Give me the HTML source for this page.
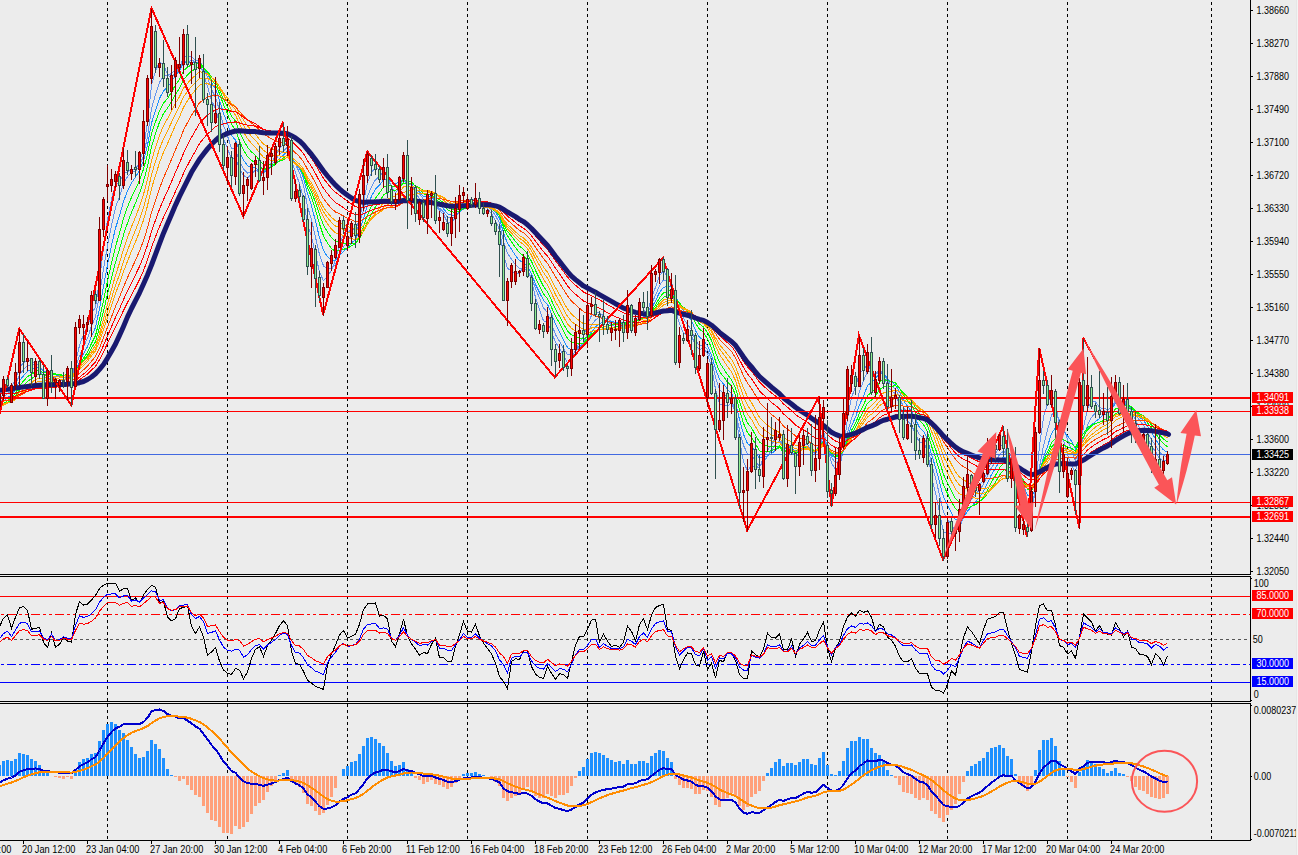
<!DOCTYPE html>
<html><head><meta charset="utf-8"><title>chart</title><style>html,body{margin:0;padding:0;background:#ECECEC;overflow:hidden}</style></head><body>
<svg width="1298" height="855" viewBox="0 0 1298 855" style="display:block;font-family:'Liberation Sans',sans-serif">
<rect width="1298" height="855" fill="#ECECEC"/>
<defs><clipPath id="cm"><rect x="0" y="0" width="1250" height="574"/></clipPath><clipPath id="cr"><rect x="0" y="577" width="1250" height="124"/></clipPath><clipPath id="cd"><rect x="0" y="704" width="1250" height="136"/></clipPath></defs>
<path d="M107.5 2V574M107.5 578V701M107.5 704V840M227.5 2V574M227.5 578V701M227.5 704V840M347.5 2V574M347.5 578V701M347.5 704V840M467.5 2V574M467.5 578V701M467.5 704V840M587.5 2V574M587.5 578V701M587.5 704V840M707.5 2V574M707.5 578V701M707.5 704V840M827.5 2V574M827.5 578V701M827.5 704V840M947.5 2V574M947.5 578V701M947.5 704V840M1067.5 2V574M1067.5 578V701M1067.5 704V840M1211.5 2V574M1211.5 578V701M1211.5 704V840" stroke="#000" stroke-width="1" stroke-dasharray="3 3" fill="none" shape-rendering="crispEdges"/>
<g clip-path="url(#cm)">
<polyline points="-0.5,400.9 3.5,393.0 7.5,388.8 11.5,386.2 15.5,380.4 19.5,366.8 23.5,363.1 27.5,359.5 31.5,362.1 35.5,362.1 39.5,367.1 43.5,378.0 47.5,377.3 51.5,379.7 55.5,380.5 59.5,380.3 63.5,380.1 67.5,376.5 71.5,379.3 75.5,362.0 79.5,345.5 83.5,334.5 87.5,326.7 91.5,313.1 95.5,307.2 99.5,279.8 103.5,248.2 107.5,219.8 111.5,199.1 115.5,184.5 119.5,181.8 123.5,173.8 127.5,171.6 131.5,169.8 135.5,168.8 139.5,162.7 143.5,148.5 147.5,122.3 151.5,85.1 155.5,70.9 159.5,62.2 163.5,64.5 167.5,74.6 171.5,77.8 175.5,72.8 179.5,69.5 183.5,56.3 187.5,55.9 191.5,56.7 195.5,60.8 199.5,60.6 203.5,74.7 207.5,86.1 211.5,100.7 215.5,108.3 219.5,123.2 223.5,139.2 227.5,148.2 231.5,159.7 235.5,157.1 239.5,169.1 243.5,175.2 247.5,178.0 251.5,174.3 255.5,170.1 259.5,171.4 263.5,172.5 267.5,167.1 271.5,162.3 275.5,156.0 279.5,147.9 283.5,145.0 287.5,142.1 291.5,160.0 295.5,172.5 299.5,183.7 303.5,199.0 307.5,224.9 311.5,236.4 315.5,254.3 319.5,272.1 323.5,280.7 327.5,276.4 331.5,270.0 335.5,260.0 339.5,243.7 343.5,235.2 347.5,233.1 351.5,228.6 355.5,230.0 359.5,218.4 363.5,202.3 367.5,182.7 371.5,172.5 375.5,167.5 379.5,170.0 383.5,169.7 387.5,177.9 391.5,186.7 395.5,192.4 399.5,188.9 403.5,178.1 407.5,183.2 411.5,183.5 415.5,193.2 419.5,198.5 423.5,207.0 427.5,203.6 431.5,200.5 435.5,206.1 439.5,210.1 443.5,214.5 447.5,222.5 451.5,222.6 455.5,217.9 459.5,209.8 463.5,202.2 467.5,198.9 471.5,199.4 475.5,198.9 479.5,202.3 483.5,206.6 487.5,208.4 491.5,213.7 495.5,220.6 499.5,229.5 503.5,255.0 507.5,268.3 511.5,271.2 515.5,273.5 519.5,273.1 523.5,266.3 527.5,268.7 531.5,280.2 535.5,297.6 539.5,309.8 543.5,320.9 547.5,322.3 551.5,331.8 555.5,342.5 559.5,348.1 563.5,356.3 567.5,362.4 571.5,358.9 575.5,349.7 579.5,341.8 583.5,336.8 587.5,324.2 591.5,315.4 595.5,313.2 599.5,312.8 603.5,315.8 607.5,321.3 611.5,324.8 615.5,327.0 619.5,325.5 623.5,327.5 627.5,319.9 631.5,322.3 635.5,320.7 639.5,314.1 643.5,310.6 647.5,312.0 651.5,298.0 655.5,287.1 659.5,275.6 663.5,270.7 667.5,277.1 671.5,282.3 675.5,310.5 679.5,323.6 683.5,333.3 687.5,334.9 691.5,336.1 695.5,345.2 699.5,349.7 703.5,347.6 707.5,353.6 711.5,367.2 715.5,389.1 719.5,404.0 723.5,405.1 727.5,405.9 731.5,403.0 735.5,412.6 739.5,440.0 743.5,461.9 747.5,470.9 751.5,465.8 755.5,466.6 759.5,467.4 763.5,457.4 767.5,450.0 771.5,445.2 775.5,437.9 779.5,434.6 783.5,448.8 787.5,448.8 791.5,451.2 795.5,457.2 799.5,452.8 803.5,445.8 807.5,444.1 811.5,451.6 815.5,454.1 819.5,443.3 823.5,430.7 827.5,448.0 831.5,462.8 835.5,470.1 839.5,466.8 843.5,450.3 847.5,418.7 851.5,397.3 855.5,387.3 859.5,373.1 863.5,369.8 867.5,363.5 871.5,371.6 875.5,374.5 879.5,371.4 883.5,375.3 887.5,386.1 891.5,390.5 895.5,393.9 899.5,404.3 903.5,416.5 907.5,420.9 911.5,424.8 915.5,434.8 919.5,442.2 923.5,442.1 927.5,450.7 931.5,476.6 935.5,492.8 939.5,512.4 943.5,532.4 947.5,533.3 951.5,533.5 955.5,532.9 959.5,524.2 963.5,509.7 967.5,495.6 971.5,488.2 975.5,486.1 979.5,484.6 983.5,480.8 987.5,471.4 991.5,460.9 995.5,454.3 999.5,445.6 1003.5,444.8 1007.5,455.4 1011.5,458.0 1015.5,482.5 1019.5,497.5 1023.5,510.4 1027.5,520.7 1031.5,514.0 1035.5,485.4 1039.5,446.0 1043.5,417.1 1047.5,403.7 1051.5,394.3 1055.5,402.2 1059.5,427.2 1063.5,440.4 1067.5,455.1 1071.5,464.5 1075.5,473.0 1079.5,443.4 1083.5,427.6 1087.5,408.5 1091.5,402.1 1095.5,401.7 1099.5,407.2 1103.5,409.4 1107.5,414.4 1111.5,409.0 1115.5,399.4 1119.5,402.2 1123.5,400.5 1127.5,403.4 1131.5,410.9 1135.5,420.4 1139.5,427.8 1143.5,432.2 1147.5,438.8 1151.5,446.1 1155.5,451.7 1159.5,458.2 1163.5,461.0 1167.5,459.5" fill="none" stroke="#6495ED" stroke-width="1" shape-rendering="crispEdges"/>
<polyline points="-0.5,404.1 3.5,397.8 7.5,393.8 11.5,390.7 15.5,385.3 19.5,374.5 23.5,369.7 27.5,365.4 31.5,365.3 35.5,363.5 39.5,365.0 43.5,372.2 47.5,372.9 51.5,376.2 55.5,377.9 59.5,379.2 63.5,380.1 67.5,377.9 71.5,379.5 75.5,367.6 79.5,355.9 83.5,346.5 87.5,338.4 91.5,325.9 95.5,316.9 99.5,294.5 103.5,269.2 107.5,245.8 111.5,225.3 115.5,207.6 119.5,196.5 123.5,183.6 127.5,176.6 131.5,172.9 135.5,171.0 139.5,166.2 143.5,155.4 147.5,136.5 151.5,108.8 155.5,94.6 159.5,82.2 163.5,76.0 167.5,75.6 171.5,73.4 175.5,70.0 179.5,69.3 183.5,62.2 187.5,61.6 191.5,60.7 195.5,61.3 199.5,59.7 203.5,68.4 207.5,77.5 211.5,89.3 215.5,97.5 219.5,110.2 223.5,125.4 227.5,136.0 231.5,148.1 235.5,149.8 239.5,161.4 243.5,168.8 247.5,173.2 251.5,172.4 255.5,170.1 259.5,172.4 263.5,173.5 267.5,169.7 271.5,165.0 275.5,159.9 279.5,154.1 283.5,150.9 287.5,147.0 291.5,156.7 295.5,164.3 299.5,172.7 303.5,185.2 307.5,206.3 311.5,220.0 315.5,237.3 319.5,254.6 323.5,265.9 327.5,269.2 331.5,268.8 335.5,264.6 339.5,254.2 343.5,246.9 347.5,241.8 351.5,235.0 355.5,232.8 359.5,223.0 363.5,210.8 367.5,196.2 371.5,186.7 375.5,179.7 379.5,176.4 383.5,172.1 387.5,174.7 391.5,180.6 395.5,185.9 399.5,185.6 403.5,179.7 407.5,184.2 411.5,185.0 415.5,191.2 419.5,193.8 423.5,199.4 427.5,199.4 431.5,199.4 435.5,205.1 439.5,208.2 443.5,211.8 447.5,217.0 451.5,218.1 455.5,216.7 459.5,212.7 463.5,208.0 467.5,205.0 471.5,203.5 475.5,201.2 479.5,201.6 483.5,203.9 487.5,205.6 491.5,210.1 495.5,215.7 499.5,223.0 503.5,241.7 507.5,253.5 511.5,259.2 515.5,264.8 519.5,268.8 523.5,268.0 527.5,270.5 531.5,277.6 535.5,288.7 539.5,298.0 543.5,307.9 547.5,312.6 551.5,323.3 555.5,334.6 559.5,341.2 563.5,348.6 567.5,354.6 571.5,355.2 575.5,351.4 579.5,347.0 583.5,343.3 587.5,333.4 591.5,324.8 595.5,320.0 599.5,317.0 603.5,317.2 607.5,319.2 611.5,321.1 615.5,323.2 619.5,323.7 623.5,326.2 627.5,321.9 631.5,323.5 635.5,322.1 639.5,317.2 643.5,314.1 647.5,313.8 651.5,304.1 655.5,295.3 659.5,285.6 663.5,279.7 667.5,281.3 671.5,281.9 675.5,299.0 679.5,308.5 683.5,318.6 687.5,324.5 691.5,329.9 695.5,340.5 699.5,345.6 703.5,345.5 707.5,349.5 711.5,360.0 715.5,377.0 719.5,389.6 723.5,393.4 727.5,397.7 731.5,400.3 735.5,410.4 739.5,429.9 743.5,445.3 747.5,453.8 751.5,454.9 755.5,461.2 759.5,466.7 763.5,462.3 767.5,456.2 771.5,450.4 775.5,444.2 779.5,440.6 783.5,447.9 787.5,446.4 791.5,447.5 795.5,452.3 799.5,451.0 803.5,448.2 807.5,447.1 811.5,451.7 815.5,452.7 819.5,445.2 823.5,436.1 827.5,446.9 831.5,457.5 835.5,462.7 839.5,460.5 843.5,450.7 847.5,432.6 851.5,418.5 855.5,407.8 859.5,390.9 863.5,381.1 867.5,370.8 871.5,372.7 875.5,373.3 879.5,370.7 883.5,373.2 887.5,380.7 891.5,385.7 895.5,389.1 899.5,397.1 903.5,407.2 907.5,413.2 911.5,418.4 915.5,427.2 919.5,434.8 923.5,437.6 927.5,445.1 931.5,464.0 935.5,477.8 939.5,494.7 943.5,512.4 947.5,519.0 951.5,525.7 955.5,530.0 959.5,527.1 963.5,517.8 967.5,506.7 971.5,499.1 975.5,494.4 979.5,490.1 983.5,484.3 987.5,475.7 991.5,467.6 995.5,462.2 999.5,454.6 1003.5,451.1 1007.5,455.1 1011.5,455.3 1015.5,471.4 1019.5,483.1 1023.5,495.2 1027.5,506.8 1031.5,507.1 1035.5,492.7 1039.5,467.3 1043.5,445.7 1047.5,430.3 1051.5,415.2 1055.5,410.8 1059.5,420.1 1063.5,427.2 1067.5,439.4 1071.5,450.0 1075.5,461.1 1079.5,446.8 1083.5,438.3 1087.5,425.0 1091.5,417.3 1095.5,412.6 1099.5,409.8 1103.5,407.9 1107.5,409.7 1111.5,408.0 1115.5,402.5 1119.5,404.7 1123.5,403.1 1127.5,404.3 1131.5,408.0 1135.5,414.0 1139.5,420.4 1143.5,425.3 1147.5,432.2 1151.5,439.3 1155.5,445.7 1159.5,452.1 1163.5,455.7 1167.5,456.7" fill="none" stroke="#6495ED" stroke-width="1" shape-rendering="crispEdges"/>
<polyline points="-0.5,406.6 3.5,401.5 7.5,397.8 11.5,394.7 15.5,389.7 19.5,380.7 23.5,375.9 27.5,371.3 31.5,369.8 35.5,367.0 39.5,367.0 43.5,371.5 47.5,371.3 51.5,373.2 55.5,374.7 59.5,376.4 63.5,378.1 67.5,377.1 71.5,379.0 75.5,370.7 79.5,361.6 83.5,353.9 87.5,346.6 91.5,336.1 95.5,327.5 99.5,308.4 103.5,286.6 107.5,264.9 111.5,245.5 115.5,228.1 119.5,215.8 123.5,201.4 127.5,191.1 131.5,182.9 135.5,177.0 139.5,170.2 143.5,160.6 147.5,145.3 151.5,123.2 155.5,110.4 159.5,98.5 163.5,90.9 167.5,87.3 171.5,81.8 175.5,75.3 179.5,71.0 183.5,63.4 187.5,62.6 191.5,62.3 195.5,63.4 199.5,62.0 203.5,67.7 207.5,73.7 211.5,82.3 215.5,88.9 219.5,100.1 223.5,113.4 227.5,123.9 231.5,135.5 235.5,140.1 239.5,151.7 243.5,160.2 247.5,165.7 251.5,167.6 255.5,167.9 259.5,170.9 263.5,172.5 267.5,170.0 271.5,167.2 275.5,163.3 279.5,158.5 283.5,154.9 287.5,151.1 291.5,157.8 295.5,163.0 299.5,168.6 303.5,177.6 307.5,193.9 311.5,205.8 315.5,221.2 319.5,237.6 323.5,250.4 327.5,256.8 331.5,260.2 335.5,260.2 339.5,255.3 343.5,251.4 347.5,248.2 351.5,242.7 355.5,239.7 359.5,230.1 363.5,218.6 367.5,205.5 371.5,196.3 375.5,189.2 379.5,185.0 383.5,180.0 387.5,179.7 391.5,181.5 395.5,183.6 399.5,182.3 403.5,178.2 407.5,182.3 411.5,183.8 415.5,189.1 419.5,191.9 423.5,196.6 427.5,197.0 431.5,196.8 435.5,201.2 439.5,204.7 443.5,208.7 447.5,213.9 451.5,215.3 455.5,214.9 459.5,212.0 463.5,208.9 467.5,207.2 471.5,206.4 475.5,204.6 479.5,204.3 483.5,205.0 487.5,205.3 491.5,207.9 495.5,212.1 499.5,218.1 503.5,233.1 507.5,243.3 511.5,249.3 515.5,255.5 519.5,260.6 523.5,262.3 527.5,266.4 531.5,274.0 535.5,284.4 539.5,292.4 543.5,300.3 547.5,304.4 551.5,313.8 555.5,324.1 559.5,331.7 563.5,340.2 567.5,347.5 571.5,350.0 575.5,348.5 579.5,346.3 583.5,344.7 587.5,338.0 591.5,331.6 595.5,327.1 599.5,323.5 603.5,321.9 607.5,321.5 611.5,321.5 615.5,322.3 619.5,322.0 623.5,323.9 627.5,321.1 631.5,323.0 635.5,322.5 639.5,319.1 643.5,316.7 647.5,316.0 651.5,308.2 655.5,300.9 659.5,292.5 663.5,287.1 667.5,286.8 671.5,285.9 675.5,297.2 679.5,303.6 683.5,310.5 687.5,315.1 691.5,320.3 695.5,330.6 699.5,337.4 703.5,340.2 707.5,345.9 711.5,355.1 715.5,368.9 719.5,379.2 723.5,383.9 727.5,389.3 731.5,393.2 735.5,402.6 739.5,419.5 743.5,434.2 747.5,443.7 751.5,446.4 755.5,452.3 759.5,458.1 763.5,457.3 767.5,455.8 771.5,453.8 775.5,449.9 779.5,446.1 783.5,449.8 787.5,447.9 791.5,448.1 795.5,450.9 799.5,449.3 803.5,447.0 807.5,446.6 811.5,450.7 815.5,452.4 819.5,446.9 823.5,439.9 827.5,447.3 831.5,454.9 835.5,458.7 839.5,457.5 843.5,450.9 847.5,437.4 851.5,425.9 855.5,417.3 859.5,404.8 863.5,396.3 867.5,385.6 871.5,382.4 875.5,378.5 879.5,373.3 883.5,373.4 887.5,378.4 891.5,382.1 895.5,385.0 899.5,391.6 903.5,400.6 907.5,406.3 911.5,411.5 915.5,419.6 919.5,427.4 923.5,431.4 927.5,438.6 931.5,454.6 935.5,467.2 939.5,481.8 943.5,497.3 947.5,505.2 951.5,513.3 955.5,519.6 959.5,520.8 963.5,517.3 967.5,511.2 971.5,506.3 975.5,502.1 979.5,497.4 983.5,491.2 987.5,482.7 991.5,474.6 995.5,468.3 999.5,460.7 1003.5,456.9 1007.5,459.0 1011.5,458.0 1015.5,468.6 1019.5,476.5 1023.5,485.6 1027.5,495.3 1031.5,497.3 1035.5,489.0 1039.5,472.2 1043.5,457.3 1047.5,446.3 1051.5,433.6 1055.5,427.7 1059.5,430.4 1063.5,431.1 1067.5,435.9 1071.5,441.0 1075.5,449.3 1079.5,440.7 1083.5,436.7 1087.5,429.1 1091.5,424.9 1095.5,421.6 1099.5,418.5 1103.5,414.9 1107.5,413.9 1111.5,409.3 1115.5,403.5 1119.5,404.2 1123.5,403.7 1127.5,404.9 1131.5,407.9 1135.5,412.3 1139.5,417.0 1143.5,420.5 1147.5,426.0 1151.5,432.5 1155.5,438.9 1159.5,445.5 1163.5,449.9 1167.5,452.4" fill="none" stroke="#1E90FF" stroke-width="1" shape-rendering="crispEdges"/>
<polyline points="-0.5,407.9 3.5,403.9 7.5,400.8 11.5,398.0 15.5,393.6 19.5,385.7 23.5,381.1 27.5,376.6 31.5,374.5 35.5,371.4 39.5,370.4 43.5,373.1 47.5,372.1 51.5,373.0 55.5,373.8 59.5,374.7 63.5,375.9 67.5,375.3 71.5,377.3 75.5,371.3 79.5,364.3 83.5,358.3 87.5,352.4 91.5,343.4 95.5,335.7 99.5,319.3 103.5,300.4 107.5,281.2 111.5,263.2 115.5,246.6 119.5,233.2 123.5,218.5 127.5,207.0 131.5,197.4 135.5,189.4 139.5,180.5 143.5,169.2 147.5,154.0 151.5,133.9 155.5,121.9 159.5,110.9 163.5,103.2 167.5,98.5 171.5,92.2 175.5,84.9 179.5,79.3 183.5,70.6 187.5,67.3 191.5,64.6 195.5,63.9 199.5,62.6 203.5,67.4 207.5,72.7 211.5,79.6 215.5,84.8 219.5,93.5 223.5,104.5 227.5,113.6 231.5,124.4 235.5,129.9 239.5,141.2 243.5,149.9 247.5,156.7 251.5,160.4 255.5,162.7 259.5,166.6 263.5,169.4 267.5,168.6 271.5,167.2 275.5,164.5 279.5,160.7 283.5,158.1 287.5,154.8 291.5,159.7 295.5,163.1 299.5,167.2 303.5,174.4 307.5,187.4 311.5,197.1 315.5,209.9 319.5,223.9 323.5,235.9 327.5,243.2 331.5,248.5 335.5,251.6 339.5,250.2 343.5,249.2 347.5,248.4 351.5,245.5 355.5,243.9 359.5,236.4 363.5,226.6 367.5,214.9 371.5,205.7 375.5,198.0 379.5,192.9 383.5,187.2 387.5,185.6 391.5,186.0 395.5,186.4 399.5,184.1 403.5,179.4 407.5,181.4 411.5,182.0 415.5,186.4 419.5,189.2 423.5,193.8 427.5,194.6 431.5,195.1 435.5,199.0 439.5,202.1 443.5,205.3 447.5,209.8 451.5,211.8 455.5,212.4 459.5,211.0 463.5,208.9 467.5,207.7 471.5,207.1 475.5,205.8 479.5,205.8 483.5,206.5 487.5,206.7 491.5,208.4 495.5,211.2 499.5,215.6 503.5,227.3 507.5,235.9 511.5,241.6 515.5,247.6 519.5,252.8 523.5,255.6 527.5,260.2 531.5,267.7 535.5,277.6 539.5,285.8 543.5,293.9 547.5,298.9 551.5,307.3 555.5,316.3 559.5,323.1 563.5,331.1 567.5,338.5 571.5,342.4 575.5,343.3 579.5,343.4 583.5,343.3 587.5,338.8 591.5,334.0 595.5,331.0 599.5,328.2 603.5,326.7 607.5,325.7 611.5,324.8 615.5,324.3 619.5,323.0 623.5,323.6 627.5,321.0 631.5,322.1 635.5,321.7 639.5,319.1 643.5,317.6 647.5,317.3 651.5,311.1 655.5,305.0 659.5,297.8 663.5,292.8 667.5,291.8 671.5,290.1 675.5,298.5 679.5,302.8 683.5,307.8 687.5,311.1 691.5,315.1 695.5,323.2 699.5,329.1 703.5,332.4 707.5,338.7 711.5,348.1 715.5,361.1 719.5,371.5 723.5,376.6 727.5,382.0 731.5,386.0 735.5,394.8 739.5,410.0 743.5,423.4 747.5,432.7 751.5,437.0 755.5,444.0 759.5,450.9 763.5,451.6 767.5,451.3 771.5,450.8 775.5,449.0 779.5,447.7 783.5,451.9 787.5,450.8 791.5,450.3 795.5,451.5 799.5,449.7 803.5,447.6 807.5,446.8 811.5,449.6 815.5,450.9 819.5,446.8 823.5,441.6 827.5,447.9 831.5,453.9 835.5,457.0 839.5,455.9 843.5,450.6 847.5,439.7 851.5,430.5 855.5,423.5 859.5,412.9 863.5,405.1 867.5,395.6 871.5,392.6 875.5,388.5 879.5,382.2 883.5,379.4 887.5,380.6 891.5,381.6 895.5,383.0 899.5,388.1 903.5,395.5 907.5,400.5 911.5,405.4 915.5,413.1 919.5,420.3 923.5,424.7 927.5,431.7 931.5,446.0 935.5,457.7 939.5,471.0 943.5,485.2 947.5,493.5 951.5,501.9 955.5,508.8 959.5,511.9 963.5,511.2 967.5,508.2 971.5,506.1 975.5,504.6 979.5,501.9 983.5,497.2 987.5,489.8 991.5,482.1 995.5,475.6 999.5,467.9 1003.5,463.3 1007.5,463.2 1011.5,461.2 1015.5,468.9 1019.5,474.8 1023.5,481.7 1027.5,489.1 1031.5,490.7 1035.5,484.3 1039.5,471.6 1043.5,460.4 1047.5,452.4 1051.5,442.9 1055.5,438.2 1059.5,440.2 1063.5,439.7 1067.5,441.9 1071.5,443.6 1075.5,447.7 1079.5,438.4 1083.5,433.7 1087.5,427.5 1091.5,425.1 1095.5,423.6 1099.5,422.2 1103.5,420.1 1107.5,419.3 1111.5,414.9 1115.5,408.8 1119.5,407.8 1123.5,405.3 1127.5,405.1 1131.5,406.9 1135.5,410.9 1139.5,415.0 1143.5,418.2 1147.5,422.7 1151.5,428.1 1155.5,433.4 1159.5,439.1 1163.5,443.7 1167.5,446.9" fill="none" stroke="#00FF00" stroke-width="1" shape-rendering="crispEdges"/>
<polyline points="-0.5,408.2 3.5,405.0 7.5,402.5 11.5,400.2 15.5,396.4 19.5,389.7 23.5,385.5 27.5,381.3 31.5,378.9 35.5,375.6 39.5,374.2 43.5,375.7 47.5,374.3 51.5,374.4 55.5,374.5 59.5,374.7 63.5,375.3 67.5,374.6 71.5,376.0 75.5,370.8 79.5,365.1 83.5,360.3 87.5,355.6 91.5,348.1 95.5,341.6 99.5,327.6 103.5,311.1 107.5,294.1 111.5,277.7 115.5,262.3 119.5,249.3 123.5,234.9 127.5,223.0 131.5,212.3 135.5,203.0 139.5,193.2 143.5,181.4 147.5,166.2 151.5,146.8 155.5,133.8 159.5,122.1 163.5,113.6 167.5,108.2 171.5,101.7 175.5,94.3 179.5,88.2 183.5,79.5 187.5,75.1 191.5,71.2 195.5,68.8 199.5,65.8 203.5,68.1 207.5,71.5 211.5,77.2 215.5,81.9 219.5,89.7 223.5,99.1 227.5,106.9 231.5,116.1 235.5,121.2 239.5,131.5 243.5,140.0 247.5,147.2 251.5,151.9 255.5,155.3 259.5,160.3 263.5,164.2 267.5,165.0 271.5,164.9 275.5,163.7 279.5,161.3 283.5,159.6 287.5,157.0 291.5,161.0 295.5,164.0 299.5,167.3 303.5,173.1 307.5,183.6 311.5,191.7 315.5,202.6 319.5,214.8 323.5,225.2 327.5,232.1 331.5,237.5 335.5,241.4 339.5,242.0 343.5,243.0 347.5,244.3 351.5,243.5 355.5,243.6 359.5,238.4 363.5,231.2 367.5,221.7 371.5,213.8 375.5,206.7 379.5,201.3 383.5,195.1 387.5,192.2 391.5,191.1 395.5,190.4 399.5,187.6 403.5,182.8 407.5,183.7 411.5,183.2 415.5,185.9 419.5,187.5 423.5,191.0 427.5,191.9 431.5,192.8 435.5,196.7 439.5,199.7 443.5,202.9 447.5,207.0 451.5,209.0 455.5,209.6 459.5,208.7 463.5,207.5 467.5,207.2 471.5,207.1 475.5,206.2 479.5,206.4 483.5,207.0 487.5,207.2 491.5,208.8 495.5,211.3 499.5,214.9 503.5,224.5 507.5,231.5 511.5,236.2 515.5,241.4 519.5,246.3 523.5,249.3 527.5,254.1 531.5,261.3 535.5,270.5 539.5,278.5 543.5,286.5 547.5,292.0 551.5,300.4 555.5,309.3 559.5,316.3 563.5,324.0 567.5,330.9 571.5,334.9 575.5,336.7 579.5,337.9 583.5,339.2 587.5,336.8 591.5,334.0 595.5,332.1 599.5,330.2 603.5,329.1 607.5,328.5 611.5,327.8 615.5,327.2 619.5,325.6 623.5,325.5 627.5,322.6 631.5,322.7 635.5,321.8 639.5,319.4 643.5,317.9 647.5,317.5 651.5,312.5 655.5,307.5 659.5,301.6 663.5,297.2 667.5,296.0 671.5,294.1 675.5,300.5 679.5,303.6 683.5,307.3 687.5,309.8 691.5,312.8 695.5,319.3 699.5,324.1 703.5,327.0 707.5,332.4 711.5,340.6 715.5,352.4 719.5,362.5 723.5,368.5 727.5,374.7 731.5,379.6 735.5,388.1 739.5,401.6 743.5,413.7 747.5,422.8 751.5,427.8 755.5,435.1 759.5,442.2 763.5,444.4 767.5,445.9 771.5,446.9 775.5,446.4 779.5,445.9 783.5,450.1 787.5,450.0 791.5,450.8 795.5,452.7 799.5,451.4 803.5,449.2 807.5,447.8 811.5,449.8 815.5,450.6 819.5,447.0 823.5,442.3 827.5,447.4 831.5,452.6 835.5,455.5 839.5,455.0 843.5,450.7 847.5,441.6 851.5,433.6 855.5,427.5 859.5,418.4 863.5,411.5 867.5,403.3 871.5,400.0 875.5,395.7 879.5,389.7 883.5,386.8 887.5,387.0 891.5,386.4 895.5,385.6 899.5,388.1 903.5,393.0 907.5,396.8 911.5,400.9 915.5,407.6 919.5,414.2 923.5,418.5 927.5,425.3 931.5,438.2 935.5,448.9 939.5,461.2 943.5,474.5 947.5,482.9 951.5,491.4 955.5,498.7 959.5,502.8 963.5,503.7 967.5,502.6 971.5,502.3 975.5,502.3 979.5,501.3 983.5,498.6 987.5,493.5 991.5,487.6 995.5,482.1 999.5,475.1 1003.5,470.2 1007.5,469.0 1011.5,466.0 1015.5,471.3 1019.5,475.2 1023.5,480.2 1027.5,486.1 1031.5,487.4 1035.5,482.0 1039.5,471.2 1043.5,461.7 1047.5,454.8 1051.5,447.0 1055.5,443.3 1059.5,445.2 1063.5,445.1 1067.5,446.9 1071.5,448.3 1075.5,451.0 1079.5,442.3 1083.5,436.7 1087.5,429.8 1091.5,426.0 1095.5,423.5 1099.5,422.2 1103.5,421.0 1107.5,421.0 1111.5,418.0 1115.5,413.4 1119.5,412.4 1123.5,409.7 1127.5,408.5 1131.5,408.9 1135.5,410.9 1139.5,413.5 1143.5,415.9 1147.5,420.2 1151.5,425.0 1155.5,429.8 1159.5,434.8 1163.5,438.9 1167.5,441.9" fill="none" stroke="#00FF00" stroke-width="1" shape-rendering="crispEdges"/>
<polyline points="-0.5,407.7 3.5,405.2 7.5,403.2 11.5,401.4 15.5,398.3 19.5,392.5 23.5,388.8 27.5,385.0 31.5,382.7 35.5,379.6 39.5,377.9 43.5,378.7 47.5,377.0 51.5,376.7 55.5,376.2 59.5,376.0 63.5,376.1 67.5,375.0 71.5,375.8 75.5,371.2 79.5,366.0 83.5,361.7 87.5,357.4 91.5,350.9 95.5,345.3 99.5,333.3 103.5,319.0 107.5,304.0 111.5,289.4 115.5,275.3 119.5,263.0 123.5,249.3 127.5,237.7 131.5,226.8 135.5,217.0 139.5,206.7 143.5,194.4 147.5,179.3 151.5,160.6 155.5,147.5 159.5,135.3 163.5,125.7 167.5,118.7 171.5,111.1 175.5,103.1 179.5,96.7 183.5,88.1 187.5,83.3 191.5,78.8 195.5,75.5 199.5,71.7 203.5,72.4 207.5,74.0 211.5,77.5 215.5,80.4 219.5,86.5 223.5,94.7 227.5,101.8 231.5,110.3 235.5,115.0 239.5,124.1 243.5,131.9 247.5,138.5 251.5,143.4 255.5,147.4 259.5,152.8 263.5,157.4 267.5,159.3 271.5,160.5 275.5,160.6 279.5,159.6 283.5,158.9 287.5,157.4 291.5,161.3 295.5,164.2 299.5,167.2 303.5,172.2 307.5,181.4 311.5,188.4 315.5,197.9 319.5,208.3 323.5,217.5 327.5,223.8 331.5,229.0 335.5,232.9 339.5,234.0 343.5,235.7 347.5,237.9 351.5,238.4 355.5,239.8 359.5,236.8 363.5,231.7 367.5,224.5 371.5,218.3 375.5,212.7 379.5,208.1 383.5,202.4 387.5,199.3 391.5,197.5 395.5,195.7 399.5,192.1 403.5,187.0 407.5,186.9 411.5,185.8 415.5,187.5 419.5,188.3 423.5,190.7 427.5,190.8 431.5,191.1 435.5,194.2 439.5,197.0 443.5,200.1 447.5,204.1 451.5,206.3 455.5,207.2 459.5,206.8 463.5,206.0 467.5,205.8 471.5,206.0 475.5,205.6 479.5,206.1 483.5,207.0 487.5,207.3 491.5,208.8 495.5,210.9 499.5,214.1 503.5,222.6 507.5,228.8 511.5,233.0 515.5,237.5 519.5,241.7 523.5,244.4 527.5,248.7 531.5,255.3 535.5,263.9 539.5,271.5 543.5,279.2 547.5,284.9 551.5,293.1 555.5,301.8 559.5,309.0 563.5,316.7 567.5,323.8 571.5,328.4 575.5,330.8 579.5,332.4 583.5,334.1 587.5,332.8 591.5,331.3 595.5,330.6 599.5,329.9 603.5,329.7 607.5,329.7 611.5,329.3 615.5,328.9 619.5,327.7 623.5,327.6 627.5,324.9 631.5,324.7 635.5,323.5 639.5,320.8 643.5,318.9 647.5,318.2 651.5,313.6 655.5,309.1 659.5,303.9 663.5,300.0 667.5,299.0 671.5,297.3 675.5,302.6 679.5,305.1 683.5,308.0 687.5,309.7 691.5,312.0 695.5,317.4 699.5,321.4 703.5,323.7 707.5,328.3 711.5,335.4 715.5,345.7 719.5,354.6 723.5,360.3 727.5,366.5 731.5,372.0 735.5,380.6 739.5,393.6 743.5,405.2 747.5,414.1 751.5,419.4 755.5,426.5 759.5,433.6 763.5,436.7 767.5,439.1 771.5,441.1 775.5,441.9 779.5,442.7 783.5,447.3 787.5,448.0 791.5,449.1 795.5,451.2 799.5,450.8 803.5,449.7 807.5,449.2 811.5,451.0 815.5,451.4 819.5,447.8 823.5,443.5 827.5,447.6 831.5,451.9 835.5,454.2 839.5,453.8 843.5,450.3 847.5,442.7 851.5,436.0 855.5,430.7 859.5,422.6 863.5,416.4 867.5,408.9 871.5,405.7 875.5,401.6 879.5,396.1 883.5,393.0 887.5,392.5 891.5,391.3 895.5,390.2 899.5,391.7 903.5,394.9 907.5,396.8 911.5,399.1 915.5,404.1 919.5,409.5 923.5,413.4 927.5,419.7 931.5,431.2 935.5,441.1 939.5,452.6 943.5,464.9 947.5,473.2 951.5,481.5 955.5,489.1 959.5,493.9 963.5,495.8 967.5,496.1 971.5,497.0 975.5,498.1 979.5,498.1 983.5,496.8 987.5,493.4 991.5,489.1 995.5,485.1 999.5,479.8 1003.5,475.8 1007.5,474.6 1011.5,471.5 1015.5,475.2 1019.5,477.7 1023.5,481.2 1027.5,485.6 1031.5,486.0 1035.5,481.0 1039.5,471.6 1043.5,463.2 1047.5,457.1 1051.5,450.0 1055.5,446.5 1059.5,447.9 1063.5,447.7 1067.5,449.4 1071.5,450.8 1075.5,453.3 1079.5,446.0 1083.5,441.1 1087.5,434.6 1091.5,430.5 1095.5,427.1 1099.5,424.5 1103.5,422.2 1107.5,421.3 1111.5,418.6 1115.5,414.9 1119.5,414.6 1123.5,412.7 1127.5,411.9 1131.5,412.1 1135.5,413.3 1139.5,414.9 1143.5,416.2 1147.5,418.8 1151.5,422.6 1155.5,426.5 1159.5,431.3 1163.5,435.2 1167.5,438.1" fill="none" stroke="#FFA500" stroke-width="1" shape-rendering="crispEdges"/>
<polyline points="-0.5,406.7 3.5,404.8 7.5,403.3 11.5,401.8 15.5,399.2 19.5,394.3 23.5,391.1 27.5,387.7 31.5,385.6 35.5,382.8 39.5,381.1 43.5,381.6 47.5,379.9 51.5,379.2 55.5,378.4 59.5,377.9 63.5,377.5 67.5,376.3 71.5,376.7 75.5,372.2 79.5,367.4 83.5,363.3 87.5,359.3 91.5,353.3 95.5,348.1 99.5,337.4 103.5,324.7 107.5,311.4 111.5,298.3 115.5,285.5 119.5,274.3 123.5,261.6 127.5,250.4 131.5,239.9 135.5,230.1 139.5,219.8 143.5,207.7 147.5,192.8 151.5,174.8 155.5,161.5 159.5,148.9 163.5,138.7 167.5,130.9 171.5,122.4 175.5,113.6 179.5,106.0 183.5,97.0 187.5,91.3 191.5,86.3 195.5,82.5 199.5,78.3 203.5,78.0 207.5,78.4 211.5,80.6 215.5,82.3 219.5,86.6 223.5,92.8 227.5,98.4 231.5,105.4 235.5,109.8 239.5,118.2 243.5,125.5 247.5,131.8 251.5,136.4 255.5,140.3 259.5,145.6 263.5,150.3 267.5,152.8 271.5,154.8 275.5,155.9 279.5,156.0 283.5,156.3 287.5,155.8 291.5,160.0 295.5,163.1 299.5,166.3 303.5,171.1 307.5,179.5 311.5,185.8 315.5,194.2 319.5,203.6 323.5,211.9 327.5,217.7 331.5,222.4 335.5,226.1 339.5,227.5 343.5,229.5 347.5,231.8 351.5,232.8 355.5,234.6 359.5,232.8 363.5,229.3 367.5,223.9 371.5,219.5 375.5,215.3 379.5,211.8 383.5,207.2 387.5,204.7 391.5,203.1 395.5,201.2 399.5,197.5 403.5,192.4 407.5,191.3 411.5,189.5 415.5,190.2 419.5,190.2 423.5,191.7 427.5,191.5 431.5,191.3 435.5,193.6 439.5,195.6 443.5,198.0 447.5,201.4 451.5,203.5 455.5,204.7 459.5,204.7 463.5,204.3 467.5,204.5 471.5,204.8 475.5,204.7 479.5,205.2 483.5,206.1 487.5,206.7 491.5,208.3 495.5,210.5 499.5,213.4 503.5,220.9 507.5,226.4 511.5,230.3 515.5,234.4 519.5,238.4 523.5,240.9 527.5,244.8 531.5,250.7 535.5,258.4 539.5,265.3 543.5,272.6 547.5,278.1 551.5,286.1 555.5,294.5 559.5,301.5 563.5,309.2 567.5,316.4 571.5,321.4 575.5,324.4 579.5,326.9 583.5,329.3 587.5,328.8 591.5,328.0 595.5,327.8 599.5,327.7 603.5,328.2 607.5,328.8 611.5,329.2 615.5,329.4 619.5,328.7 623.5,328.8 627.5,326.5 631.5,326.4 635.5,325.3 639.5,322.8 643.5,320.9 647.5,319.9 651.5,315.4 655.5,311.0 659.5,306.0 663.5,302.4 667.5,301.2 671.5,299.6 675.5,304.1 679.5,306.3 683.5,308.8 687.5,310.3 691.5,312.1 695.5,316.7 699.5,320.0 703.5,321.9 707.5,325.8 711.5,332.0 715.5,340.9 719.5,348.9 723.5,354.0 727.5,359.7 731.5,364.9 735.5,372.9 739.5,385.0 743.5,396.3 747.5,405.3 751.5,411.1 755.5,418.5 759.5,425.7 763.5,429.3 767.5,432.1 771.5,434.8 775.5,436.3 779.5,437.9 783.5,442.8 787.5,444.3 791.5,446.2 795.5,448.9 799.5,449.2 803.5,448.6 807.5,448.5 811.5,450.6 815.5,451.5 819.5,448.8 823.5,445.2 827.5,448.5 831.5,451.9 835.5,453.7 839.5,453.2 843.5,450.0 847.5,443.2 851.5,437.4 855.5,432.7 859.5,425.7 863.5,420.3 867.5,413.6 871.5,410.5 875.5,406.5 879.5,401.3 883.5,398.2 887.5,397.3 891.5,395.9 895.5,394.5 899.5,395.3 903.5,397.6 907.5,399.0 911.5,400.6 915.5,404.3 919.5,408.0 923.5,410.6 927.5,415.6 931.5,425.6 935.5,434.5 939.5,445.0 943.5,456.4 947.5,464.3 951.5,472.5 955.5,480.0 959.5,485.2 963.5,487.8 967.5,489.1 971.5,490.9 975.5,492.8 979.5,493.7 983.5,493.4 987.5,491.2 991.5,488.2 995.5,485.4 999.5,481.3 1003.5,478.3 1007.5,477.7 1011.5,475.5 1015.5,478.9 1019.5,480.9 1023.5,483.6 1027.5,486.8 1031.5,486.6 1035.5,481.7 1039.5,472.9 1043.5,465.1 1047.5,459.3 1051.5,452.8 1055.5,449.5 1059.5,450.4 1063.5,450.0 1067.5,451.1 1071.5,452.2 1075.5,454.4 1079.5,448.1 1083.5,444.0 1087.5,438.3 1091.5,434.7 1095.5,431.6 1099.5,428.8 1103.5,426.1 1107.5,424.3 1111.5,420.8 1115.5,416.6 1119.5,415.5 1123.5,413.7 1127.5,413.2 1131.5,413.8 1135.5,415.1 1139.5,416.7 1143.5,417.7 1147.5,419.8 1151.5,422.5 1155.5,425.4 1159.5,429.0 1163.5,432.1 1167.5,434.7" fill="none" stroke="#FFA500" stroke-width="1" shape-rendering="crispEdges"/>
<polyline points="-0.5,405.3 3.5,403.8 7.5,402.7 11.5,401.7 15.5,399.5 19.5,395.3 23.5,392.5 27.5,389.6 31.5,387.8 35.5,385.2 39.5,383.7 43.5,384.0 47.5,382.4 51.5,381.6 55.5,380.7 59.5,380.0 63.5,379.4 67.5,378.0 71.5,378.1 75.5,373.8 79.5,369.2 83.5,365.3 87.5,361.4 91.5,355.8 95.5,350.8 99.5,341.0 103.5,329.4 107.5,317.2 111.5,305.3 115.5,293.5 119.5,283.2 123.5,271.6 127.5,261.2 131.5,251.2 135.5,241.8 139.5,231.7 143.5,220.0 147.5,205.7 151.5,188.5 155.5,175.4 159.5,162.8 163.5,152.2 167.5,143.6 171.5,134.5 175.5,125.1 179.5,117.0 183.5,107.4 187.5,100.8 191.5,94.8 195.5,90.1 199.5,85.2 203.5,84.0 207.5,83.7 211.5,84.9 215.5,85.6 219.5,88.8 223.5,93.6 227.5,97.9 231.5,103.5 235.5,106.7 239.5,113.7 243.5,120.1 247.5,125.9 251.5,130.4 255.5,134.4 259.5,139.5 263.5,144.0 267.5,146.7 271.5,148.9 275.5,150.5 279.5,151.2 283.5,152.3 287.5,152.6 291.5,157.1 295.5,160.6 299.5,164.1 303.5,169.0 307.5,177.0 311.5,183.1 315.5,191.0 319.5,199.7 323.5,207.4 327.5,212.7 331.5,217.3 335.5,220.8 339.5,222.3 343.5,224.2 347.5,226.6 351.5,227.8 355.5,229.8 359.5,228.6 363.5,225.8 367.5,221.6 371.5,218.2 375.5,215.1 379.5,212.7 383.5,209.3 387.5,207.6 391.5,206.5 395.5,205.1 399.5,202.0 403.5,197.3 407.5,196.1 411.5,194.0 415.5,194.0 419.5,193.4 423.5,194.0 427.5,193.1 431.5,192.5 435.5,194.1 439.5,195.6 443.5,197.4 447.5,200.1 451.5,201.6 455.5,202.5 459.5,202.5 463.5,202.3 467.5,202.7 471.5,203.4 475.5,203.5 479.5,204.2 483.5,205.2 487.5,205.9 491.5,207.4 495.5,209.4 499.5,212.3 503.5,219.2 507.5,224.4 511.5,228.0 515.5,231.9 519.5,235.5 523.5,238.0 527.5,241.7 531.5,247.1 535.5,254.2 539.5,260.5 543.5,267.1 547.5,272.3 551.5,279.6 555.5,287.6 559.5,294.5 563.5,302.0 567.5,309.0 571.5,314.2 575.5,317.7 579.5,320.7 583.5,323.7 587.5,324.0 591.5,324.1 595.5,324.6 599.5,325.1 603.5,325.9 607.5,326.8 611.5,327.5 615.5,328.2 619.5,328.1 623.5,328.8 627.5,327.2 631.5,327.3 635.5,326.5 639.5,324.3 643.5,322.6 647.5,321.7 651.5,317.6 655.5,313.4 659.5,308.6 663.5,305.0 667.5,303.5 671.5,301.7 675.5,305.5 679.5,307.2 683.5,309.3 687.5,310.6 691.5,312.3 695.5,316.4 699.5,319.3 703.5,320.9 707.5,324.3 711.5,329.7 715.5,337.6 719.5,344.7 723.5,349.4 727.5,354.5 731.5,359.3 735.5,366.6 739.5,377.7 743.5,388.1 747.5,396.7 751.5,402.6 755.5,410.1 759.5,417.5 763.5,421.7 767.5,425.3 771.5,428.4 775.5,430.5 779.5,432.5 783.5,437.6 787.5,439.7 791.5,442.1 795.5,445.2 799.5,446.2 803.5,446.4 807.5,447.0 811.5,449.3 815.5,450.4 819.5,448.3 823.5,445.5 827.5,448.9 831.5,452.2 835.5,453.9 839.5,453.3 843.5,450.2 847.5,444.0 851.5,438.7 855.5,434.4 859.5,428.0 863.5,423.0 867.5,417.0 871.5,414.2 875.5,410.6 879.5,405.7 883.5,402.7 887.5,401.6 891.5,400.0 895.5,398.4 899.5,398.8 903.5,400.6 907.5,401.4 911.5,402.5 915.5,405.4 919.5,408.5 923.5,410.6 927.5,414.5 931.5,422.7 935.5,430.1 939.5,439.1 943.5,449.3 947.5,456.7 951.5,464.5 955.5,471.7 959.5,477.0 963.5,480.1 967.5,482.0 971.5,484.4 975.5,486.8 979.5,488.5 983.5,489.0 987.5,487.8 991.5,485.8 995.5,484.0 999.5,480.9 1003.5,478.8 1007.5,478.7 1011.5,477.1 1015.5,480.5 1019.5,482.7 1023.5,485.4 1027.5,488.5 1031.5,488.2 1035.5,483.5 1039.5,475.3 1043.5,467.8 1047.5,462.1 1051.5,455.9 1055.5,452.4 1059.5,452.8 1063.5,452.1 1067.5,453.0 1071.5,453.7 1075.5,455.4 1079.5,449.6 1083.5,445.8 1087.5,440.8 1091.5,437.5 1095.5,434.8 1099.5,432.4 1103.5,429.8 1107.5,428.1 1111.5,424.6 1115.5,420.3 1119.5,418.5 1123.5,416.0 1127.5,414.7 1131.5,414.6 1135.5,415.7 1139.5,417.2 1143.5,418.4 1147.5,420.5 1151.5,423.1 1155.5,425.7 1159.5,428.6 1163.5,431.1 1167.5,433.0" fill="none" stroke="#FFA500" stroke-width="1" shape-rendering="crispEdges"/>
<polyline points="-0.5,401.8 3.5,401.1 7.5,400.6 11.5,400.1 15.5,398.7 19.5,395.5 23.5,393.5 27.5,391.4 31.5,390.0 35.5,388.1 39.5,386.9 43.5,387.2 47.5,385.9 51.5,385.2 55.5,384.4 59.5,383.7 63.5,383.1 67.5,381.7 71.5,381.4 75.5,377.7 79.5,373.5 83.5,369.8 87.5,366.2 91.5,361.1 95.5,356.5 99.5,347.9 103.5,337.8 107.5,327.2 111.5,316.8 115.5,306.5 119.5,297.2 123.5,286.9 127.5,277.7 131.5,268.8 135.5,260.2 139.5,251.1 143.5,240.6 147.5,227.9 151.5,212.5 155.5,200.3 159.5,188.4 163.5,178.0 167.5,169.0 171.5,159.4 175.5,149.6 179.5,140.6 183.5,130.3 187.5,122.6 191.5,115.3 195.5,109.1 199.5,102.7 203.5,99.6 207.5,97.1 211.5,96.1 215.5,95.0 219.5,96.1 223.5,98.8 227.5,101.3 231.5,104.9 235.5,106.7 239.5,111.6 243.5,116.0 247.5,119.9 251.5,123.0 255.5,125.9 259.5,130.0 263.5,133.8 267.5,136.4 271.5,138.8 275.5,140.7 279.5,142.0 283.5,143.6 287.5,144.6 291.5,149.0 295.5,152.8 299.5,156.7 303.5,161.8 307.5,169.4 311.5,175.6 315.5,183.1 319.5,191.3 323.5,198.6 327.5,203.9 331.5,208.4 335.5,212.0 339.5,213.9 343.5,216.0 347.5,218.4 351.5,219.9 355.5,221.9 359.5,221.3 363.5,219.5 367.5,216.4 371.5,214.1 375.5,212.0 379.5,210.6 383.5,208.4 387.5,207.7 391.5,207.5 395.5,207.1 399.5,205.4 403.5,202.2 407.5,201.8 411.5,200.4 415.5,200.6 419.5,199.9 423.5,200.2 427.5,199.0 431.5,197.7 435.5,198.2 439.5,198.5 443.5,199.2 447.5,200.7 451.5,201.3 455.5,201.5 459.5,201.1 463.5,200.5 467.5,200.5 471.5,200.8 475.5,200.9 479.5,201.5 483.5,202.6 487.5,203.4 491.5,205.0 495.5,207.1 499.5,209.7 503.5,215.6 507.5,220.2 511.5,223.5 515.5,227.0 519.5,230.4 523.5,232.8 527.5,236.3 531.5,241.1 535.5,247.3 539.5,252.9 543.5,258.7 547.5,263.4 551.5,269.8 555.5,276.8 559.5,282.9 563.5,289.5 567.5,296.0 571.5,301.0 575.5,304.7 579.5,308.2 583.5,311.7 587.5,313.1 591.5,314.3 595.5,315.9 599.5,317.4 603.5,319.2 607.5,321.0 611.5,322.5 615.5,323.9 619.5,324.6 623.5,325.7 627.5,325.0 631.5,325.8 635.5,325.8 639.5,324.6 643.5,323.8 647.5,323.4 651.5,320.3 655.5,317.1 659.5,313.1 663.5,310.0 667.5,308.5 671.5,306.7 675.5,309.3 679.5,310.2 683.5,311.4 687.5,312.1 691.5,313.1 695.5,316.1 699.5,318.4 703.5,319.7 707.5,322.4 711.5,326.9 715.5,333.5 719.5,339.3 723.5,343.2 727.5,347.5 731.5,351.5 735.5,357.7 739.5,366.9 743.5,375.8 747.5,383.2 751.5,388.6 755.5,395.3 759.5,402.2 763.5,406.6 767.5,410.6 771.5,414.5 775.5,417.6 779.5,420.7 783.5,426.2 787.5,429.2 791.5,432.4 795.5,436.0 799.5,437.9 803.5,439.1 807.5,440.6 811.5,443.6 815.5,445.6 819.5,444.8 823.5,443.3 827.5,446.8 831.5,450.2 835.5,452.2 839.5,452.3 843.5,450.2 847.5,445.5 851.5,441.2 855.5,437.7 859.5,432.3 863.5,427.9 867.5,422.5 871.5,419.8 875.5,416.5 879.5,412.3 883.5,409.5 887.5,408.4 891.5,406.8 895.5,405.2 899.5,405.1 903.5,406.2 907.5,406.4 911.5,406.8 915.5,408.8 919.5,410.9 923.5,412.1 927.5,414.9 931.5,421.3 935.5,427.0 939.5,434.0 943.5,441.9 947.5,447.5 951.5,453.6 955.5,459.3 959.5,463.7 963.5,466.7 967.5,468.9 971.5,471.7 975.5,474.7 979.5,477.1 983.5,478.6 987.5,478.7 991.5,478.2 995.5,477.8 999.5,476.3 1003.5,475.6 1007.5,476.5 1011.5,476.1 1015.5,479.6 1019.5,482.2 1023.5,485.1 1027.5,488.2 1031.5,488.7 1035.5,485.4 1039.5,479.1 1043.5,473.1 1047.5,468.3 1051.5,462.9 1055.5,459.4 1059.5,459.0 1063.5,457.7 1067.5,457.6 1071.5,457.5 1075.5,458.3 1079.5,453.1 1083.5,449.5 1087.5,445.0 1091.5,442.0 1095.5,439.4 1099.5,437.2 1103.5,434.9 1107.5,433.3 1111.5,430.4 1115.5,426.7 1119.5,425.1 1123.5,422.7 1127.5,421.1 1131.5,420.2 1135.5,420.1 1139.5,420.3 1143.5,420.3 1147.5,421.4 1151.5,423.1 1155.5,425.1 1159.5,427.6 1163.5,429.9 1167.5,431.7" fill="none" stroke="#FF4500" stroke-width="1" shape-rendering="crispEdges"/>
<polyline points="-0.5,397.7 3.5,397.4 7.5,397.4 11.5,397.3 15.5,396.5 19.5,394.1 23.5,392.7 27.5,391.2 31.5,390.3 35.5,388.9 39.5,388.1 43.5,388.5 47.5,387.5 51.5,387.1 55.5,386.5 59.5,385.9 63.5,385.4 67.5,384.3 71.5,384.1 75.5,380.8 79.5,377.2 83.5,374.0 87.5,370.7 91.5,366.2 95.5,362.0 99.5,354.4 103.5,345.5 107.5,336.0 111.5,326.7 115.5,317.4 119.5,308.9 123.5,299.6 127.5,291.1 131.5,282.8 135.5,274.8 139.5,266.4 143.5,256.7 147.5,245.1 151.5,231.4 155.5,220.2 159.5,209.2 163.5,199.5 167.5,190.9 171.5,181.8 175.5,172.2 179.5,163.3 183.5,153.3 187.5,145.2 191.5,137.4 195.5,130.4 199.5,123.3 203.5,118.8 207.5,114.9 211.5,112.3 215.5,109.6 219.5,108.8 223.5,109.3 227.5,109.8 231.5,111.4 235.5,111.6 239.5,114.6 243.5,117.3 247.5,119.9 251.5,121.9 255.5,123.7 259.5,126.7 263.5,129.5 267.5,131.2 271.5,132.8 275.5,134.0 279.5,134.9 283.5,136.2 287.5,137.2 291.5,141.3 295.5,145.0 299.5,148.8 303.5,153.6 307.5,160.7 311.5,166.5 315.5,173.6 319.5,181.2 323.5,188.3 327.5,193.7 331.5,198.5 335.5,202.6 339.5,205.0 343.5,207.7 347.5,210.6 351.5,212.6 355.5,214.9 359.5,215.0 363.5,213.9 367.5,211.8 371.5,210.1 375.5,208.7 379.5,207.7 383.5,206.1 387.5,205.7 391.5,205.8 395.5,205.7 399.5,204.5 403.5,202.2 407.5,202.2 411.5,201.5 415.5,202.1 419.5,202.1 423.5,202.8 427.5,202.2 431.5,201.5 435.5,202.2 439.5,202.5 443.5,203.0 447.5,204.1 451.5,204.3 455.5,204.0 459.5,203.0 463.5,202.0 467.5,201.4 471.5,201.2 475.5,200.8 479.5,201.0 483.5,201.5 487.5,202.0 491.5,203.1 495.5,204.7 499.5,206.9 503.5,212.0 507.5,216.1 511.5,219.2 515.5,222.5 519.5,225.8 523.5,228.1 527.5,231.3 531.5,235.7 535.5,241.3 539.5,246.4 543.5,251.7 547.5,256.0 551.5,261.9 555.5,268.2 559.5,273.8 563.5,279.9 567.5,285.8 571.5,290.5 575.5,294.2 579.5,297.6 583.5,301.0 587.5,302.7 591.5,304.3 595.5,306.2 599.5,308.2 603.5,310.4 607.5,312.8 611.5,314.9 615.5,316.9 619.5,318.3 623.5,320.2 627.5,320.4 631.5,321.8 635.5,322.5 639.5,322.1 643.5,321.9 647.5,322.0 651.5,319.8 655.5,317.5 659.5,314.6 663.5,312.3 667.5,311.4 671.5,310.0 675.5,312.4 679.5,313.2 683.5,314.2 687.5,314.6 691.5,315.3 695.5,317.6 699.5,319.2 703.5,320.0 707.5,322.1 711.5,325.6 715.5,330.9 719.5,335.8 723.5,339.1 727.5,342.8 731.5,346.3 735.5,351.7 739.5,359.7 743.5,367.4 747.5,373.9 751.5,378.7 755.5,384.7 759.5,390.8 763.5,394.8 767.5,398.6 771.5,402.4 775.5,405.5 779.5,408.7 783.5,414.0 787.5,417.3 791.5,420.9 795.5,425.0 799.5,427.6 803.5,429.8 807.5,432.1 811.5,435.5 815.5,438.1 819.5,438.4 823.5,437.9 827.5,441.6 831.5,445.2 835.5,447.7 839.5,448.5 843.5,447.5 847.5,444.1 851.5,441.0 855.5,438.4 859.5,434.2 863.5,430.8 867.5,426.4 871.5,424.3 875.5,421.5 879.5,417.8 883.5,415.2 887.5,413.9 891.5,412.2 895.5,410.5 899.5,410.1 903.5,410.7 907.5,410.7 911.5,410.9 915.5,412.3 919.5,413.9 923.5,414.7 927.5,416.8 931.5,422.0 935.5,426.5 939.5,432.2 943.5,438.7 947.5,443.3 951.5,448.3 955.5,453.2 959.5,456.8 963.5,459.2 967.5,460.9 971.5,463.1 975.5,465.5 979.5,467.5 983.5,468.9 987.5,469.4 991.5,469.4 995.5,469.7 999.5,469.2 1003.5,469.3 1007.5,470.8 1011.5,471.3 1015.5,475.0 1019.5,478.0 1023.5,481.2 1027.5,484.5 1031.5,485.7 1035.5,483.6 1039.5,478.8 1043.5,474.2 1047.5,470.7 1051.5,466.4 1055.5,463.8 1059.5,463.8 1063.5,462.8 1067.5,462.7 1071.5,462.5 1075.5,462.9 1079.5,458.0 1083.5,454.5 1087.5,450.1 1091.5,446.9 1095.5,444.2 1099.5,441.8 1103.5,439.4 1107.5,437.7 1111.5,434.9 1115.5,431.4 1119.5,429.8 1123.5,427.5 1127.5,425.9 1131.5,425.0 1135.5,424.8 1139.5,424.9 1143.5,424.7 1147.5,425.3 1151.5,426.4 1155.5,427.5 1159.5,429.0 1163.5,430.3 1167.5,431.1" fill="none" stroke="#FF0000" stroke-width="1" shape-rendering="crispEdges"/>
<polyline points="-0.5,393.5 3.5,393.5 7.5,393.7 11.5,394.0 15.5,393.5 19.5,391.7 23.5,390.8 27.5,389.7 31.5,389.2 35.5,388.2 39.5,387.8 43.5,388.3 47.5,387.7 51.5,387.5 55.5,387.1 59.5,386.8 63.5,386.5 67.5,385.6 71.5,385.5 75.5,382.8 79.5,379.7 83.5,376.9 87.5,374.1 91.5,370.1 95.5,366.4 99.5,359.7 103.5,351.8 107.5,343.4 111.5,335.1 115.5,326.7 119.5,319.0 123.5,310.5 127.5,302.6 131.5,294.9 135.5,287.5 139.5,279.6 143.5,270.6 147.5,259.9 151.5,247.3 155.5,236.8 159.5,226.6 163.5,217.4 167.5,209.1 171.5,200.4 175.5,191.4 179.5,182.8 183.5,173.3 187.5,165.4 191.5,157.8 195.5,150.8 199.5,143.6 203.5,138.5 207.5,134.0 211.5,130.4 215.5,126.8 219.5,124.7 223.5,123.9 227.5,122.9 231.5,122.9 235.5,121.7 239.5,123.0 243.5,124.1 247.5,125.1 251.5,125.7 255.5,126.2 259.5,127.8 263.5,129.5 267.5,130.3 271.5,131.1 275.5,131.8 279.5,132.2 283.5,133.0 287.5,133.5 291.5,136.7 295.5,139.6 299.5,142.7 303.5,146.8 307.5,153.0 311.5,158.2 315.5,164.7 319.5,171.8 323.5,178.4 327.5,183.6 331.5,188.3 335.5,192.4 339.5,195.2 343.5,198.2 347.5,201.4 351.5,203.9 355.5,206.7 359.5,207.5 363.5,207.4 367.5,206.1 371.5,205.3 375.5,204.6 379.5,204.2 383.5,203.2 387.5,203.2 391.5,203.6 395.5,203.8 399.5,202.9 403.5,201.1 407.5,201.3 411.5,200.8 415.5,201.5 419.5,201.7 423.5,202.5 427.5,202.2 431.5,201.9 435.5,202.7 439.5,203.4 443.5,204.3 447.5,205.5 451.5,206.0 455.5,206.0 459.5,205.4 463.5,204.6 467.5,204.0 471.5,203.7 475.5,203.1 479.5,202.9 483.5,202.9 487.5,202.9 491.5,203.5 495.5,204.5 499.5,206.1 503.5,210.3 507.5,213.6 511.5,216.1 515.5,218.9 519.5,221.7 523.5,223.7 527.5,226.7 531.5,230.7 535.5,235.8 539.5,240.5 543.5,245.5 547.5,249.6 551.5,255.0 555.5,260.8 559.5,266.0 563.5,271.6 567.5,277.1 571.5,281.6 575.5,285.3 579.5,288.6 583.5,292.0 587.5,293.9 591.5,295.6 595.5,297.8 599.5,299.9 603.5,302.2 607.5,304.7 611.5,306.9 615.5,309.1 619.5,310.8 623.5,312.9 627.5,313.7 631.5,315.6 635.5,316.8 639.5,317.1 643.5,317.6 647.5,318.3 651.5,317.0 655.5,315.6 659.5,313.5 663.5,312.0 667.5,311.5 671.5,310.7 675.5,313.0 679.5,313.9 683.5,315.1 687.5,315.7 691.5,316.6 695.5,318.7 699.5,320.3 703.5,321.0 707.5,322.8 711.5,325.8 715.5,330.3 719.5,334.4 723.5,337.1 727.5,340.2 731.5,343.0 735.5,347.6 739.5,354.5 743.5,361.2 747.5,366.9 751.5,371.2 755.5,376.6 759.5,382.2 763.5,386.0 767.5,389.5 771.5,393.0 775.5,396.0 779.5,399.1 783.5,404.0 787.5,407.2 791.5,410.7 795.5,414.6 799.5,417.3 803.5,419.7 807.5,422.2 811.5,425.9 815.5,428.8 819.5,429.8 823.5,430.2 827.5,434.3 831.5,438.2 835.5,441.1 839.5,442.5 843.5,442.3 847.5,440.0 851.5,437.9 855.5,436.2 859.5,433.1 863.5,430.7 867.5,427.4 871.5,425.9 875.5,423.8 879.5,420.8 883.5,418.8 887.5,417.8 891.5,416.4 895.5,415.0 899.5,414.6 903.5,415.0 907.5,414.8 911.5,414.7 915.5,415.6 919.5,416.8 923.5,417.2 927.5,418.9 931.5,423.2 935.5,427.1 939.5,431.9 943.5,437.4 947.5,441.3 951.5,445.6 955.5,449.7 959.5,452.7 963.5,454.7 967.5,456.1 971.5,458.0 975.5,460.1 979.5,461.9 983.5,463.1 987.5,463.4 991.5,463.4 995.5,463.6 999.5,463.1 1003.5,463.1 1007.5,464.6 1011.5,465.2 1015.5,468.8 1019.5,471.9 1023.5,475.2 1027.5,478.7 1031.5,480.2 1035.5,479.1 1039.5,475.5 1043.5,472.2 1047.5,469.6 1051.5,466.4 1055.5,464.7 1059.5,465.0 1063.5,464.6 1067.5,464.8 1071.5,464.9 1075.5,465.5 1079.5,461.6 1083.5,458.7 1087.5,454.9 1091.5,452.1 1095.5,449.6 1099.5,447.3 1103.5,444.9 1107.5,442.9 1111.5,439.9 1115.5,436.5 1119.5,434.6 1123.5,432.2 1127.5,430.4 1131.5,429.3 1135.5,428.8 1139.5,428.6 1143.5,428.3 1147.5,428.6 1151.5,429.3 1155.5,430.2 1159.5,431.4 1163.5,432.4 1167.5,433.1" fill="none" stroke="#FF0000" stroke-width="1" shape-rendering="crispEdges"/>
<polyline points="-6,391 -0.5,390.4 3.5,389.9 7.5,389.3 11.5,388.7 15.5,388.1 19.5,387.5 23.5,386.9 27.5,386.4 31.5,386.0 35.5,385.6 39.5,385.3 43.5,385.0 47.5,384.8 51.5,384.6 55.5,384.5 59.5,384.5 63.5,384.4 67.5,384.2 71.5,383.8 75.5,383.5 79.5,382.7 83.5,381.5 87.5,379.5 91.5,377.0 95.5,373.8 99.5,369.4 103.5,364.5 107.5,358.1 111.5,351.2 115.5,344.0 119.5,335.4 123.5,326.4 127.5,316.9 131.5,308.5 135.5,300.6 139.5,292.8 143.5,283.9 147.5,274.9 151.5,265.0 155.5,254.3 159.5,243.7 163.5,233.2 167.5,223.8 171.5,214.4 175.5,205.1 179.5,196.4 183.5,188.3 187.5,180.3 191.5,172.3 195.5,165.7 199.5,159.3 203.5,154.0 207.5,148.9 211.5,144.3 215.5,140.5 219.5,137.0 223.5,135.2 227.5,133.4 231.5,132.2 235.5,131.0 239.5,130.8 243.5,131.1 247.5,131.4 251.5,131.5 255.5,131.6 259.5,132.2 263.5,132.7 267.5,132.9 271.5,133.0 275.5,133.0 279.5,132.9 283.5,133.3 287.5,133.7 291.5,135.7 295.5,137.9 299.5,140.9 303.5,144.7 307.5,149.7 311.5,154.4 315.5,159.8 319.5,165.5 323.5,171.0 327.5,176.0 331.5,180.7 335.5,185.1 339.5,188.8 343.5,192.3 347.5,195.3 351.5,198.0 355.5,200.4 359.5,201.6 363.5,202.4 367.5,202.1 371.5,201.9 375.5,201.8 379.5,201.6 383.5,201.3 387.5,201.3 391.5,201.5 395.5,201.7 399.5,201.3 403.5,200.5 407.5,200.7 411.5,200.6 415.5,201.1 419.5,201.5 423.5,202.2 427.5,202.4 431.5,202.6 435.5,203.5 439.5,204.2 443.5,205.0 447.5,205.8 451.5,206.3 455.5,206.3 459.5,206.1 463.5,205.7 467.5,205.4 471.5,205.2 475.5,204.9 479.5,204.8 483.5,204.7 487.5,204.8 491.5,205.1 495.5,205.9 499.5,207.1 503.5,209.5 507.5,212.0 511.5,214.3 515.5,216.7 519.5,219.3 523.5,221.6 527.5,224.7 531.5,228.5 535.5,232.8 539.5,237.0 543.5,241.3 547.5,245.5 551.5,250.8 555.5,256.2 559.5,261.3 563.5,266.5 567.5,271.6 571.5,276.1 575.5,279.6 579.5,282.8 583.5,285.9 587.5,288.0 591.5,290.1 595.5,292.3 599.5,294.6 603.5,296.9 607.5,299.2 611.5,301.4 615.5,303.7 619.5,305.8 623.5,308.1 627.5,309.4 631.5,311.1 635.5,312.4 639.5,313.1 643.5,313.8 647.5,314.5 651.5,313.7 655.5,312.9 659.5,311.9 663.5,311.0 667.5,310.7 671.5,310.2 675.5,311.9 679.5,313.1 683.5,314.3 687.5,315.3 691.5,316.3 695.5,318.0 699.5,319.4 703.5,320.4 707.5,322.5 711.5,325.2 715.5,328.7 719.5,332.4 723.5,335.5 727.5,338.6 731.5,341.5 735.5,345.3 739.5,351.2 743.5,357.0 747.5,362.4 751.5,366.9 755.5,372.0 759.5,376.6 763.5,380.2 767.5,383.7 771.5,387.2 775.5,390.4 779.5,393.7 783.5,397.9 787.5,400.9 791.5,404.0 795.5,407.3 799.5,410.1 803.5,412.6 807.5,415.2 811.5,418.2 815.5,420.9 819.5,423.5 823.5,425.5 827.5,428.9 831.5,432.3 835.5,434.4 839.5,435.9 843.5,436.4 847.5,435.4 851.5,434.4 855.5,433.2 859.5,431.2 863.5,429.4 867.5,427.3 871.5,425.9 875.5,424.2 879.5,422.0 883.5,420.2 887.5,419.2 891.5,418.1 895.5,417.0 899.5,416.5 903.5,416.4 907.5,416.2 911.5,416.2 915.5,416.7 919.5,417.7 923.5,418.4 927.5,419.9 931.5,423.2 935.5,427.1 939.5,431.5 943.5,436.1 947.5,439.8 951.5,443.8 955.5,447.1 959.5,449.8 963.5,451.9 967.5,453.4 971.5,455.0 975.5,456.6 979.5,457.9 983.5,459.0 987.5,459.5 991.5,459.7 995.5,460.1 999.5,460.0 1003.5,460.2 1007.5,461.5 1011.5,462.7 1015.5,465.5 1019.5,468.0 1023.5,470.7 1027.5,473.2 1031.5,474.8 1035.5,473.9 1039.5,471.8 1043.5,469.4 1047.5,467.4 1051.5,465.3 1055.5,464.1 1059.5,463.8 1063.5,463.4 1067.5,463.7 1071.5,463.9 1075.5,464.1 1079.5,462.1 1083.5,460.1 1087.5,457.5 1091.5,455.0 1095.5,452.5 1099.5,450.1 1103.5,447.9 1107.5,446.0 1111.5,443.5 1115.5,440.5 1119.5,438.2 1123.5,435.8 1127.5,433.8 1131.5,432.1 1135.5,431.4 1139.5,430.8 1143.5,430.3 1147.5,430.5 1151.5,430.8 1155.5,431.4 1159.5,432.2 1163.5,432.9 1167.5,433.8 1168.5,434.40000000000003" fill="none" stroke="#191970" stroke-width="5" stroke-linejoin="round" stroke-linecap="round"/>
<polyline points="-3,424.6 19.3,328.7 71.4,405.2 151.5,8 243.4,216.4 282.6,123 323.1,314.6 367.3,151.6 554.7,377.2 663,257.9 747.2,530.3 818.7,397.3 831.5,505.6 858.9,335.3 943.1,559.9 1002.7,427.2 1027,536.7 1039.3,348.4 1079.4,527.8 1083.5,338.6 1160,476" fill="none" stroke="#FF0000" stroke-width="2" stroke-linejoin="miter" shape-rendering="crispEdges"/>
</g>
<rect x="0" y="397" width="1250" height="2" fill="#FF0000"/>
<rect x="0" y="411" width="1250" height="1" fill="#FF0000"/>
<rect x="0" y="502" width="1250" height="1" fill="#FF0000"/>
<rect x="0" y="516" width="1250" height="2" fill="#FF0000"/>
<rect x="0" y="454" width="1250" height="1" fill="#4169E1"/>
<g shape-rendering="crispEdges">
<path d="M-0.5 392V409M3.5 376V400M11.5 383V403M15.5 363V390M19.5 329V386M27.5 341V371M35.5 358V383M47.5 369V406M55.5 378V399M59.5 379V392M67.5 366V400M75.5 322V387M79.5 315V334M83.5 315V340M87.5 317V332M91.5 291V337M99.5 217V301M103.5 197V237M107.5 165V201M111.5 169V192M115.5 171V188M123.5 148V189M131.5 165V180M139.5 151V184M143.5 110V166M147.5 75V126M151.5 9V84M159.5 58V77M171.5 65V110M175.5 57V108M179.5 37V73M183.5 29V74M191.5 51V84M199.5 55V78M215.5 77V124M227.5 146V185M235.5 142V185M243.5 172V217M247.5 177V201M251.5 163V190M255.5 156V177M263.5 161V195M267.5 145V190M271.5 148V175M275.5 143V165M279.5 133V155M287.5 126V156M295.5 180V202M311.5 222V288M323.5 283V316M327.5 261V288M331.5 250V271M335.5 239V259M339.5 217V248M347.5 219V251M351.5 221V244M359.5 189V243M363.5 159V211M367.5 152V183M383.5 158V188M395.5 193V210M399.5 176V201M403.5 152V182M411.5 177V215M419.5 201V225M427.5 190V234M431.5 191V218M439.5 211V233M443.5 213V231M451.5 209V246M455.5 197V238M459.5 185V232M463.5 187V203M467.5 194V210M475.5 183V208M487.5 209V217M507.5 278V326M511.5 263V288M515.5 259V285M519.5 270V277M523.5 254V276M539.5 320V334M547.5 307V334M559.5 344V368M571.5 338V376M575.5 324V355M579.5 308V349M587.5 291V348M591.5 297V314M611.5 322V341M615.5 320V340M619.5 318V347M627.5 290V339M635.5 315V336M639.5 298V321M651.5 265V317M655.5 269V282M659.5 258V284M671.5 273V303M679.5 327V368M687.5 320V342M699.5 341V371M703.5 328V357M707.5 359V407M719.5 383V432M723.5 385V440M731.5 385V414M743.5 467V522M747.5 459V531M751.5 432V473M763.5 427V488M767.5 403V452M775.5 422V451M779.5 417V441M787.5 425V487M799.5 435V476M803.5 430V465M815.5 415V482M819.5 397V470M823.5 400V437M835.5 448V496M839.5 437V480M843.5 399V449M847.5 366V421M851.5 365V392M859.5 336V387M867.5 344V374M875.5 371V397M879.5 357V384M891.5 369V412M895.5 388V409M907.5 407V440M923.5 435V463M935.5 502V538M947.5 518V559M955.5 526V551M959.5 499V542M963.5 477V512M967.5 457V494M979.5 483V515M983.5 472V483M987.5 438V475M991.5 442V464M999.5 434V451M1011.5 456V488M1019.5 514V534M1023.5 519V535M1031.5 487V532M1035.5 427V507M1039.5 348V434M1051.5 375V407M1063.5 444V478M1067.5 458V498M1071.5 468V480M1079.5 378V529M1087.5 357V412M1103.5 393V425M1111.5 377V448M1115.5 375V399M1123.5 385V432M1143.5 433V444M1155.5 424V469M1163.5 456V474M1167.5 451V465" stroke="#800000" stroke-width="1" fill="none"/>
<path d="M7.5 377V388M23.5 334V373M31.5 358V386M39.5 360V379M43.5 365V399M51.5 355V393M63.5 372V388M71.5 361V406M95.5 291V304M119.5 173V200M127.5 150V175M135.5 151V177M155.5 25V73M163.5 40V87M167.5 67V97M187.5 25V67M195.5 37V116M203.5 54V103M207.5 93V126M211.5 80V132M219.5 102V152M223.5 135V170M231.5 151V187M239.5 139V196M259.5 146V182M283.5 123V152M291.5 136V201M299.5 184V201M303.5 195V222M307.5 208V275M315.5 245V307M319.5 271V301M343.5 216V234M355.5 212V248M371.5 155V176M375.5 154V175M379.5 166V183M387.5 154V198M391.5 185V205M407.5 140V229M415.5 185V222M423.5 199V222M435.5 175V224M447.5 216V237M471.5 197V208M479.5 192V214M483.5 203V215M491.5 210V226M495.5 220V235M499.5 224V277M503.5 230V301M527.5 251V278M531.5 275V311M535.5 299V330M543.5 323V338M551.5 313V366M555.5 344V377M563.5 345V371M567.5 365V377M583.5 315V342M595.5 292V317M599.5 311V342M603.5 300V335M607.5 316V334M623.5 315V342M631.5 304V333M643.5 292V313M647.5 291V330M663.5 257V280M667.5 268V306M675.5 275V365M683.5 333V344M691.5 310V355M695.5 333V374M711.5 358V395M715.5 389V479M727.5 378V418M735.5 395V440M739.5 434V508M755.5 437V489M759.5 455V482M771.5 417V453M783.5 430V480M791.5 428V455M795.5 452V494M807.5 428V445M811.5 424V476M827.5 420V498M831.5 483V507M855.5 372V395M863.5 348V381M871.5 337V395M883.5 358V389M887.5 364V410M899.5 395V433M903.5 407V440M911.5 400V443M915.5 414V460M919.5 438V459M927.5 431V467M931.5 458V529M939.5 498V546M943.5 529V561M951.5 518V536M971.5 474V489M975.5 483V497M995.5 440V460M1003.5 426V457M1007.5 429V482M1015.5 447V532M1027.5 524V537M1043.5 371V394M1047.5 380V406M1055.5 389V438M1059.5 420V493M1075.5 469V514M1083.5 339V412M1091.5 375V409M1095.5 403V418M1099.5 371V418M1107.5 387V435M1119.5 377V415M1127.5 383V413M1131.5 407V443M1135.5 412V443M1139.5 430V446M1147.5 433V450M1151.5 438V473M1159.5 433V471" stroke="#2F4F4F" stroke-width="1" fill="none"/>
<path d="M-2 394h3v13h-3zM2 379h3v17h-3zM10 385h3v18h-3zM14 372h3v14h-3zM18 342h3v31h-3zM26 358h3v4h-3zM34 361h3v16h-3zM46 370h3v29h-3zM54 379h3v4h-3zM58 380h3v6h-3zM66 368h3v14h-3zM74 327h3v60h-3zM78 319h3v9h-3zM82 324h3v4h-3zM86 322h3v3h-3zM90 295h3v29h-3zM98 229h3v72h-3zM102 199h3v31h-3zM106 184h3v3h-3zM110 179h3v7h-3zM114 174h3v8h-3zM122 160h3v26h-3zM130 169h3v5h-3zM138 152h3v18h-3zM142 121h3v33h-3zM146 78h3v44h-3zM150 26h3v53h-3zM158 63h3v5h-3zM170 75h3v17h-3zM174 60h3v17h-3zM178 64h3v4h-3zM182 34h3v31h-3zM190 62h3v3h-3zM198 58h3v11h-3zM214 113h3v10h-3zM226 157h3v11h-3zM234 143h3v34h-3zM242 185h3v9h-3zM246 179h3v7h-3zM250 164h3v25h-3zM254 160h3v5h-3zM262 177h3v4h-3zM266 155h3v23h-3zM270 153h3v4h-3zM274 146h3v17h-3zM278 138h3v9h-3zM286 139h3v7h-3zM294 191h3v8h-3zM310 248h3v19h-3zM322 287h3v11h-3zM326 262h3v26h-3zM330 255h3v9h-3zM334 245h3v13h-3zM338 220h3v28h-3zM346 236h3v10h-3zM350 223h3v14h-3zM358 194h3v43h-3zM362 175h3v20h-3zM366 154h3v22h-3zM382 167h3v13h-3zM394 199h3v4h-3zM398 177h3v23h-3zM402 155h3v24h-3zM410 187h3v14h-3zM418 202h3v18h-3zM426 194h3v25h-3zM430 193h3v3h-3zM438 217h3v4h-3zM442 222h3v8h-3zM450 217h3v17h-3zM454 208h3v11h-3zM458 195h3v15h-3zM462 192h3v4h-3zM466 199h3v10h-3zM474 198h3v7h-3zM486 210h3v4h-3zM506 281h3v20h-3zM510 265h3v17h-3zM514 271h3v11h-3zM518 271h3v2h-3zM522 257h3v15h-3zM538 324h3v6h-3zM546 316h3v16h-3zM558 353h3v8h-3zM570 349h3v20h-3zM574 332h3v18h-3zM578 330h3v4h-3zM586 305h3v30h-3zM590 304h3v3h-3zM610 328h3v5h-3zM614 329h3v2h-3zM618 320h3v11h-3zM626 305h3v28h-3zM634 318h3v15h-3zM638 302h3v18h-3zM650 273h3v43h-3zM654 271h3v4h-3zM658 259h3v14h-3zM670 289h3v10h-3zM678 335h3v28h-3zM686 329h3v12h-3zM698 355h3v14h-3zM702 339h3v17h-3zM706 363h3v35h-3zM718 420h3v10h-3zM722 392h3v29h-3zM730 398h3v6h-3zM742 490h3v3h-3zM746 471h3v20h-3zM750 443h3v29h-3zM762 439h3v38h-3zM766 437h3v3h-3zM774 430h3v10h-3zM778 434h3v4h-3zM786 444h3v35h-3zM798 442h3v25h-3zM802 435h3v11h-3zM814 458h3v13h-3zM818 417h3v42h-3zM822 407h3v12h-3zM834 475h3v19h-3zM838 447h3v28h-3zM842 413h3v34h-3zM846 369h3v46h-3zM850 375h3v9h-3zM858 355h3v32h-3zM866 352h3v20h-3zM874 379h3v14h-3zM878 361h3v20h-3zM890 397h3v10h-3zM894 395h3v4h-3zM906 424h3v15h-3zM922 438h3v20h-3zM934 515h3v10h-3zM946 522h3v35h-3zM954 530h3v4h-3zM958 509h3v23h-3zM962 486h3v24h-3zM966 474h3v14h-3zM978 484h3v7h-3zM982 473h3v9h-3zM986 453h3v21h-3zM990 445h3v9h-3zM998 435h3v15h-3zM1010 459h3v20h-3zM1018 515h3v14h-3zM1022 524h3v6h-3zM1030 491h3v40h-3zM1034 432h3v60h-3zM1038 380h3v53h-3zM1050 390h3v15h-3zM1062 454h3v18h-3zM1066 473h3v24h-3zM1070 470h3v5h-3zM1078 382h3v103h-3zM1086 385h3v21h-3zM1102 411h3v4h-3zM1110 396h3v25h-3zM1114 382h3v15h-3zM1122 399h3v15h-3zM1142 434h3v7h-3zM1154 459h3v7h-3zM1162 461h3v10h-3zM1166 454h3v10h-3z" fill="#800000"/>
<path d="M6 379h3v7h-3zM22 342h3v20h-3zM30 358h3v15h-3zM38 361h3v14h-3zM42 374h3v25h-3zM50 370h3v13h-3zM62 380h3v2h-3zM70 368h3v20h-3zM94 294h3v7h-3zM118 176h3v10h-3zM126 162h3v9h-3zM134 167h3v3h-3zM154 31h3v37h-3zM162 63h3v16h-3zM166 78h3v15h-3zM186 34h3v31h-3zM194 62h3v8h-3zM202 71h3v29h-3zM206 99h3v6h-3zM210 104h3v19h-3zM218 113h3v32h-3zM222 144h3v22h-3zM230 157h3v19h-3zM238 144h3v50h-3zM258 160h3v21h-3zM282 138h3v8h-3zM290 140h3v59h-3zM298 190h3v7h-3zM302 196h3v24h-3zM306 219h3v48h-3zM314 249h3v30h-3zM318 277h3v19h-3zM342 220h3v9h-3zM354 224h3v12h-3zM370 158h3v8h-3zM374 164h3v6h-3zM378 169h3v11h-3zM386 167h3v26h-3zM390 189h3v13h-3zM406 155h3v46h-3zM414 187h3v27h-3zM422 202h3v16h-3zM434 193h3v28h-3zM446 223h3v11h-3zM470 199h3v6h-3zM478 198h3v11h-3zM482 208h3v6h-3zM490 216h3v8h-3zM494 223h3v9h-3zM498 231h3v14h-3zM502 245h3v56h-3zM526 258h3v19h-3zM530 277h3v27h-3zM534 303h3v26h-3zM542 325h3v7h-3zM550 317h3v33h-3zM554 349h3v13h-3zM562 351h3v17h-3zM566 366h3v3h-3zM582 330h3v5h-3zM594 304h3v11h-3zM598 314h3v3h-3zM602 316h3v9h-3zM606 324h3v6h-3zM622 322h3v11h-3zM630 305h3v26h-3zM642 302h3v6h-3zM646 307h3v10h-3zM662 259h3v13h-3zM666 269h3v29h-3zM674 290h3v73h-3zM682 338h3v3h-3zM690 330h3v6h-3zM694 335h3v33h-3zM710 364h3v30h-3zM714 393h3v37h-3zM726 393h3v10h-3zM734 398h3v40h-3zM738 437h3v56h-3zM754 449h3v21h-3zM758 469h3v7h-3zM770 437h3v2h-3zM782 434h3v45h-3zM790 445h3v8h-3zM794 453h3v14h-3zM806 436h3v8h-3zM810 443h3v28h-3zM826 445h3v47h-3zM830 490h3v4h-3zM854 376h3v11h-3zM862 355h3v16h-3zM870 352h3v41h-3zM882 361h3v23h-3zM886 383h3v24h-3zM898 397h3v23h-3zM902 419h3v19h-3zM910 425h3v2h-3zM914 424h3v27h-3zM918 450h3v5h-3zM926 438h3v27h-3zM930 464h3v61h-3zM938 515h3v24h-3zM942 538h3v19h-3zM950 521h3v11h-3zM970 475h3v10h-3zM974 484h3v7h-3zM994 445h3v5h-3zM1002 436h3v13h-3zM1006 448h3v31h-3zM1014 460h3v68h-3zM1026 527h3v5h-3zM1042 380h3v6h-3zM1046 385h3v20h-3zM1054 391h3v32h-3zM1058 422h3v50h-3zM1074 470h3v15h-3zM1082 380h3v26h-3zM1090 387h3v20h-3zM1094 405h3v7h-3zM1098 410h3v5h-3zM1106 412h3v9h-3zM1118 382h3v32h-3zM1126 399h3v13h-3zM1130 411h3v13h-3zM1134 423h3v12h-3zM1138 434h3v5h-3zM1146 434h3v15h-3zM1150 446h3v12h-3zM1158 459h3v9h-3z" fill="#2F4F4F"/>
<path d="M-1 395h1v11h-1zM3 380h1v15h-1zM11 386h1v16h-1zM15 373h1v12h-1zM19 343h1v29h-1zM27 359h1v2h-1zM35 362h1v14h-1zM47 371h1v27h-1zM55 380h1v2h-1zM59 381h1v4h-1zM67 369h1v12h-1zM75 328h1v58h-1zM79 320h1v7h-1zM83 325h1v2h-1zM87 323h1v1h-1zM91 296h1v27h-1zM99 230h1v70h-1zM103 200h1v29h-1zM107 185h1v1h-1zM111 180h1v5h-1zM115 175h1v6h-1zM123 161h1v24h-1zM131 170h1v3h-1zM139 153h1v16h-1zM143 122h1v31h-1zM147 79h1v42h-1zM151 27h1v51h-1zM159 64h1v3h-1zM171 76h1v15h-1zM175 61h1v15h-1zM179 65h1v2h-1zM183 35h1v29h-1zM191 63h1v1h-1zM199 59h1v9h-1zM215 114h1v8h-1zM227 158h1v9h-1zM235 144h1v32h-1zM243 186h1v7h-1zM247 180h1v5h-1zM251 165h1v23h-1zM255 161h1v3h-1zM263 178h1v2h-1zM267 156h1v21h-1zM271 154h1v2h-1zM275 147h1v15h-1zM279 139h1v7h-1zM287 140h1v5h-1zM295 192h1v6h-1zM311 249h1v17h-1zM323 288h1v9h-1zM327 263h1v24h-1zM331 256h1v7h-1zM335 246h1v11h-1zM339 221h1v26h-1zM347 237h1v8h-1zM351 224h1v12h-1zM359 195h1v41h-1zM363 176h1v18h-1zM367 155h1v20h-1zM383 168h1v11h-1zM395 200h1v2h-1zM399 178h1v21h-1zM403 156h1v22h-1zM411 188h1v12h-1zM419 203h1v16h-1zM427 195h1v23h-1zM431 194h1v1h-1zM439 218h1v2h-1zM443 223h1v6h-1zM451 218h1v15h-1zM455 209h1v9h-1zM459 196h1v13h-1zM463 193h1v2h-1zM467 200h1v8h-1zM475 199h1v5h-1zM487 211h1v2h-1zM507 282h1v18h-1zM511 266h1v15h-1zM515 272h1v9h-1zM523 258h1v13h-1zM539 325h1v4h-1zM547 317h1v14h-1zM559 354h1v6h-1zM571 350h1v18h-1zM575 333h1v16h-1zM579 331h1v2h-1zM587 306h1v28h-1zM591 305h1v1h-1zM611 329h1v3h-1zM619 321h1v9h-1zM627 306h1v26h-1zM635 319h1v13h-1zM639 303h1v16h-1zM651 274h1v41h-1zM655 272h1v2h-1zM659 260h1v12h-1zM671 290h1v8h-1zM679 336h1v26h-1zM687 330h1v10h-1zM699 356h1v12h-1zM703 340h1v15h-1zM707 364h1v33h-1zM719 421h1v8h-1zM723 393h1v27h-1zM731 399h1v4h-1zM743 491h1v1h-1zM747 472h1v18h-1zM751 444h1v27h-1zM763 440h1v36h-1zM767 438h1v1h-1zM775 431h1v8h-1zM779 435h1v2h-1zM787 445h1v33h-1zM799 443h1v23h-1zM803 436h1v9h-1zM815 459h1v11h-1zM819 418h1v40h-1zM823 408h1v10h-1zM835 476h1v17h-1zM839 448h1v26h-1zM843 414h1v32h-1zM847 370h1v44h-1zM851 376h1v7h-1zM859 356h1v30h-1zM867 353h1v18h-1zM875 380h1v12h-1zM879 362h1v18h-1zM891 398h1v8h-1zM895 396h1v2h-1zM907 425h1v13h-1zM923 439h1v18h-1zM935 516h1v8h-1zM947 523h1v33h-1zM955 531h1v2h-1zM959 510h1v21h-1zM963 487h1v22h-1zM967 475h1v12h-1zM979 485h1v5h-1zM983 474h1v7h-1zM987 454h1v19h-1zM991 446h1v7h-1zM999 436h1v13h-1zM1011 460h1v18h-1zM1019 516h1v12h-1zM1023 525h1v4h-1zM1031 492h1v38h-1zM1035 433h1v58h-1zM1039 381h1v51h-1zM1051 391h1v13h-1zM1063 455h1v16h-1zM1067 474h1v22h-1zM1071 471h1v3h-1zM1079 383h1v101h-1zM1087 386h1v19h-1zM1103 412h1v2h-1zM1111 397h1v23h-1zM1115 383h1v13h-1zM1123 400h1v13h-1zM1143 435h1v5h-1zM1155 460h1v5h-1zM1163 462h1v8h-1zM1167 455h1v8h-1z" fill="#FF0000"/>
<path d="M7 380h1v5h-1zM23 343h1v18h-1zM31 359h1v13h-1zM39 362h1v12h-1zM43 375h1v23h-1zM51 371h1v11h-1zM71 369h1v18h-1zM95 295h1v5h-1zM119 177h1v8h-1zM127 163h1v7h-1zM135 168h1v1h-1zM155 32h1v35h-1zM163 64h1v14h-1zM167 79h1v13h-1zM187 35h1v29h-1zM195 63h1v6h-1zM203 72h1v27h-1zM207 100h1v4h-1zM211 105h1v17h-1zM219 114h1v30h-1zM223 145h1v20h-1zM231 158h1v17h-1zM239 145h1v48h-1zM259 161h1v19h-1zM283 139h1v6h-1zM291 141h1v57h-1zM299 191h1v5h-1zM303 197h1v22h-1zM307 220h1v46h-1zM315 250h1v28h-1zM319 278h1v17h-1zM343 221h1v7h-1zM355 225h1v10h-1zM371 159h1v6h-1zM375 165h1v4h-1zM379 170h1v9h-1zM387 168h1v24h-1zM391 190h1v11h-1zM407 156h1v44h-1zM415 188h1v25h-1zM423 203h1v14h-1zM435 194h1v26h-1zM447 224h1v9h-1zM471 200h1v4h-1zM479 199h1v9h-1zM483 209h1v4h-1zM491 217h1v6h-1zM495 224h1v7h-1zM499 232h1v12h-1zM503 246h1v54h-1zM527 259h1v17h-1zM531 278h1v25h-1zM535 304h1v24h-1zM543 326h1v5h-1zM551 318h1v31h-1zM555 350h1v11h-1zM563 352h1v15h-1zM567 367h1v1h-1zM583 331h1v3h-1zM595 305h1v9h-1zM599 315h1v1h-1zM603 317h1v7h-1zM607 325h1v4h-1zM623 323h1v9h-1zM631 306h1v24h-1zM643 303h1v4h-1zM647 308h1v8h-1zM663 260h1v11h-1zM667 270h1v27h-1zM675 291h1v71h-1zM683 339h1v1h-1zM691 331h1v4h-1zM695 336h1v31h-1zM711 365h1v28h-1zM715 394h1v35h-1zM727 394h1v8h-1zM735 399h1v38h-1zM739 438h1v54h-1zM755 450h1v19h-1zM759 470h1v5h-1zM783 435h1v43h-1zM791 446h1v6h-1zM795 454h1v12h-1zM807 437h1v6h-1zM811 444h1v26h-1zM827 446h1v45h-1zM831 491h1v2h-1zM855 377h1v9h-1zM863 356h1v14h-1zM871 353h1v39h-1zM883 362h1v21h-1zM887 384h1v22h-1zM899 398h1v21h-1zM903 420h1v17h-1zM915 425h1v25h-1zM919 451h1v3h-1zM927 439h1v25h-1zM931 465h1v59h-1zM939 516h1v22h-1zM943 539h1v17h-1zM951 522h1v9h-1zM971 476h1v8h-1zM975 485h1v5h-1zM995 446h1v3h-1zM1003 437h1v11h-1zM1007 449h1v29h-1zM1015 461h1v66h-1zM1027 528h1v3h-1zM1043 381h1v4h-1zM1047 386h1v18h-1zM1055 392h1v30h-1zM1059 423h1v48h-1zM1075 471h1v13h-1zM1083 381h1v24h-1zM1091 388h1v18h-1zM1095 406h1v5h-1zM1099 411h1v3h-1zM1107 413h1v7h-1zM1119 383h1v30h-1zM1127 400h1v11h-1zM1131 412h1v11h-1zM1135 424h1v10h-1zM1139 435h1v3h-1zM1147 435h1v13h-1zM1151 447h1v10h-1zM1159 460h1v7h-1z" fill="#90EE90"/>
</g>
<polygon points="943.2,557.7 946.2,548.9 949.3,540.2 952.5,531.4 955.7,522.7 958.9,514.0 962.2,505.3 965.5,496.6 968.9,488.0 972.3,479.4 975.8,470.8 979.3,462.2 982.9,453.6 977.4,451.6 996.3,431.9 995.3,458.6 989.8,456.6 986.2,465.1 982.5,473.6 978.8,482.1 975.0,490.6 971.2,499.1 967.4,507.5 963.5,515.9 959.5,524.3 955.5,532.7 951.4,541.0 947.3,549.4 943.2,557.7" fill="#FB5558"/>
<polygon points="1007.2,428.8 1008.0,435.2 1008.8,441.7 1009.7,448.1 1010.7,454.5 1011.7,460.8 1012.7,467.2 1013.8,473.6 1015.0,479.9 1016.2,486.2 1017.5,492.6 1018.9,498.9 1020.3,505.2 1015.1,506.0 1031.8,529.6 1033.5,502.5 1028.3,503.3 1026.9,497.1 1025.4,490.8 1023.8,484.5 1022.2,478.3 1020.5,472.1 1018.8,465.8 1017.0,459.6 1015.1,453.4 1013.2,447.3 1011.3,441.1 1009.3,434.9 1007.2,428.8" fill="#FB5558"/>
<polygon points="1034.6,530.6 1037.5,517.2 1040.4,503.8 1043.4,490.4 1046.4,477.0 1049.5,463.7 1052.6,450.4 1055.8,437.0 1059.1,423.7 1062.4,410.4 1065.8,397.2 1069.2,383.9 1072.7,370.7 1067.6,369.3 1083.5,348.5 1086.0,374.2 1080.9,372.8 1077.4,386.1 1073.8,399.3 1070.1,412.5 1066.4,425.7 1062.6,438.8 1058.8,452.0 1054.9,465.1 1050.9,478.3 1046.9,491.4 1042.9,504.5 1038.8,517.5 1034.6,530.6" fill="#FB5558"/>
<polygon points="1084.5,340.0 1090.4,352.2 1096.3,364.5 1102.3,376.6 1108.4,388.8 1114.5,400.9 1120.7,413.0 1126.9,425.0 1133.2,437.1 1139.6,449.1 1146.0,461.0 1152.4,472.9 1158.9,484.8 1154.2,487.8 1176.2,504.6 1172.0,477.3 1167.3,480.3 1160.7,468.4 1154.0,456.6 1147.3,444.8 1140.6,433.0 1133.8,421.3 1126.9,409.6 1120.0,397.9 1113.0,386.2 1106.0,374.6 1098.9,363.1 1091.7,351.5 1084.5,340.0" fill="#FB5558"/>
<polygon points="1176.5,504.6 1177.0,498.6 1177.6,492.7 1178.3,486.8 1179.0,480.8 1179.7,474.9 1180.5,469.0 1181.4,463.1 1182.4,457.2 1183.3,451.4 1184.4,445.5 1185.5,439.7 1186.6,433.8 1180.4,433.1 1196.2,410.0 1201.0,436.2 1194.8,435.5 1193.6,441.3 1192.3,447.1 1191.0,452.9 1189.6,458.7 1188.1,464.5 1186.7,470.2 1185.1,476.0 1183.5,481.7 1181.8,487.5 1180.1,493.2 1178.3,498.9 1176.5,504.6" fill="#FB5558"/>
<g shape-rendering="crispEdges" fill="#000">
<rect x="0" y="574" width="1251" height="1"/><rect x="0" y="576" width="1251" height="1"/>
<rect x="0" y="701" width="1251" height="1"/><rect x="0" y="703" width="1251" height="1"/>
<rect x="0" y="840" width="1251" height="1"/>
<rect x="1250" y="0" width="1" height="575"/><rect x="1250" y="576" width="1" height="126"/><rect x="1250" y="703" width="1" height="138"/>
</g>
<g shape-rendering="crispEdges">
<rect x="0" y="596" width="1250" height="1" fill="#FF0000"/>
<rect x="0" y="682" width="1250" height="1" fill="#0000FF"/>
<path d="M-17 614.5H1250" stroke="#FF0000" stroke-width="1" stroke-dasharray="9 3 3 3 3 3" fill="none"/>
<path d="M-17 664.5H1250" stroke="#0000FF" stroke-width="1" stroke-dasharray="9 3 3 3 3 3" fill="none"/>
<path d="M2 639.5H1250" stroke="#555" stroke-width="1" stroke-dasharray="3 3" fill="none"/>
</g>
<g clip-path="url(#cr)">
<polyline points="-0.5,626.7 3.5,618.2 7.5,614.9 11.5,628.1 15.5,617.1 19.5,607.9 23.5,606.3 27.5,610.3 31.5,629.2 35.5,628.4 39.5,627.3 43.5,642.4 47.5,647.6 51.5,633.0 55.5,647.2 59.5,644.2 63.5,637.8 67.5,641.0 71.5,642.2 75.5,614.2 79.5,601.9 83.5,605.1 87.5,604.0 91.5,600.1 95.5,595.3 99.5,588.6 103.5,585.1 107.5,583.4 111.5,583.2 115.5,583.2 119.5,591.3 123.5,588.9 127.5,588.2 131.5,600.3 135.5,598.0 139.5,602.6 143.5,595.0 147.5,589.6 151.5,585.5 155.5,587.1 159.5,602.5 163.5,601.8 167.5,616.8 171.5,620.9 175.5,618.8 179.5,608.5 183.5,607.5 187.5,605.7 191.5,626.4 195.5,633.4 199.5,627.0 203.5,637.1 207.5,655.2 211.5,652.1 215.5,647.5 219.5,661.2 223.5,669.9 227.5,673.5 231.5,674.4 235.5,668.5 239.5,670.1 243.5,678.7 247.5,671.9 251.5,658.6 255.5,649.2 259.5,646.9 263.5,656.3 267.5,645.8 271.5,640.2 275.5,633.5 279.5,625.6 283.5,620.9 287.5,625.5 291.5,651.4 295.5,663.5 299.5,664.2 303.5,671.3 307.5,680.4 311.5,683.1 315.5,686.4 319.5,687.7 323.5,689.4 327.5,664.8 331.5,654.0 335.5,645.3 339.5,635.0 343.5,630.5 347.5,638.1 351.5,636.2 355.5,634.2 359.5,624.3 363.5,609.6 367.5,604.0 371.5,603.3 375.5,603.0 379.5,616.2 383.5,615.3 387.5,619.0 391.5,641.2 395.5,646.7 399.5,633.9 403.5,619.2 407.5,635.6 411.5,643.8 415.5,649.2 419.5,655.3 423.5,652.4 427.5,653.6 431.5,644.4 435.5,638.3 439.5,657.8 443.5,657.8 447.5,661.3 451.5,661.7 455.5,646.5 459.5,634.5 463.5,621.5 467.5,631.4 471.5,632.1 475.5,624.2 479.5,635.9 483.5,643.3 487.5,648.4 491.5,653.9 495.5,663.4 499.5,676.4 503.5,681.6 507.5,688.7 511.5,661.5 515.5,658.8 519.5,659.5 523.5,651.1 527.5,650.5 531.5,666.6 535.5,674.0 539.5,677.5 543.5,678.4 547.5,666.3 551.5,673.4 555.5,679.2 559.5,673.8 563.5,674.5 567.5,678.7 571.5,662.0 575.5,645.0 579.5,636.4 583.5,636.9 587.5,629.3 591.5,620.1 595.5,619.4 599.5,641.9 603.5,634.4 607.5,641.0 611.5,646.4 615.5,645.2 619.5,647.4 623.5,642.2 627.5,626.1 631.5,631.3 635.5,641.0 639.5,624.5 643.5,618.7 647.5,629.7 651.5,615.1 655.5,607.5 659.5,605.5 663.5,604.3 667.5,629.6 671.5,630.2 675.5,656.5 679.5,668.6 683.5,659.7 687.5,652.9 691.5,653.9 695.5,664.7 699.5,666.2 703.5,651.2 707.5,669.3 711.5,663.1 715.5,678.1 719.5,660.2 723.5,661.8 727.5,652.5 731.5,653.0 735.5,660.6 739.5,674.6 743.5,678.6 747.5,678.7 751.5,651.0 755.5,654.6 759.5,656.6 763.5,649.2 767.5,633.2 771.5,637.5 775.5,638.1 779.5,633.9 783.5,649.5 787.5,649.8 791.5,639.0 795.5,656.1 799.5,644.2 803.5,638.9 807.5,632.3 811.5,641.5 815.5,640.7 819.5,630.1 823.5,621.7 827.5,648.3 831.5,661.6 835.5,648.1 839.5,641.2 843.5,626.4 847.5,617.0 851.5,613.0 855.5,616.4 859.5,610.2 863.5,612.5 867.5,610.7 871.5,617.2 875.5,631.4 879.5,624.3 883.5,626.9 887.5,637.4 891.5,640.2 895.5,646.3 899.5,656.6 903.5,661.7 907.5,661.7 911.5,658.8 915.5,668.2 919.5,673.5 923.5,673.8 927.5,673.8 931.5,687.1 935.5,690.5 939.5,690.8 943.5,693.0 947.5,684.5 951.5,670.9 955.5,674.9 959.5,656.2 963.5,637.4 967.5,627.0 971.5,631.5 975.5,637.5 979.5,643.7 983.5,629.4 987.5,619.2 991.5,617.8 995.5,616.3 999.5,612.7 1003.5,612.1 1007.5,629.2 1011.5,643.8 1015.5,655.6 1019.5,669.7 1023.5,670.8 1027.5,672.1 1031.5,651.1 1035.5,625.5 1039.5,605.6 1043.5,604.0 1047.5,611.0 1051.5,610.5 1055.5,625.2 1059.5,645.5 1063.5,647.4 1067.5,653.8 1071.5,651.1 1075.5,658.3 1079.5,636.8 1083.5,613.8 1087.5,618.2 1091.5,622.0 1095.5,631.1 1099.5,625.5 1103.5,632.9 1107.5,634.0 1111.5,635.0 1115.5,622.8 1119.5,629.0 1123.5,637.1 1127.5,631.0 1131.5,647.3 1135.5,648.6 1139.5,654.3 1143.5,654.6 1147.5,656.5 1151.5,664.5 1155.5,653.7 1159.5,657.5 1163.5,665.1 1167.5,656.0" fill="none" stroke="#000000" stroke-width="1" shape-rendering="crispEdges"/>
<polyline points="-0.5,639.0 3.5,633.6 7.5,631.3 11.5,636.6 15.5,629.9 19.5,623.3 23.5,622.1 27.5,623.7 31.5,631.9 35.5,631.5 39.5,630.9 43.5,637.6 47.5,640.2 51.5,634.0 55.5,640.9 59.5,639.7 63.5,636.9 67.5,638.3 71.5,638.9 75.5,625.1 79.5,615.9 83.5,617.4 87.5,616.6 91.5,613.7 95.5,609.6 99.5,602.3 103.5,597.2 107.5,594.2 111.5,594.0 115.5,593.9 119.5,597.9 123.5,596.0 127.5,595.4 131.5,601.2 135.5,600.0 139.5,602.1 143.5,598.2 147.5,594.5 151.5,590.8 155.5,591.8 159.5,600.3 163.5,599.9 167.5,608.2 171.5,610.6 175.5,609.7 179.5,605.6 183.5,605.1 187.5,604.4 191.5,614.7 195.5,618.6 199.5,616.4 203.5,621.8 207.5,633.5 211.5,632.4 215.5,630.8 219.5,639.9 223.5,647.1 227.5,650.3 231.5,651.2 235.5,649.1 239.5,650.2 243.5,657.2 247.5,654.7 251.5,649.6 255.5,645.7 259.5,644.7 263.5,649.1 267.5,644.8 271.5,642.4 275.5,639.4 279.5,635.5 283.5,633.1 287.5,634.7 291.5,645.6 295.5,652.6 299.5,653.1 303.5,657.7 307.5,665.1 311.5,667.7 315.5,671.2 319.5,672.7 323.5,674.6 327.5,662.8 331.5,657.0 335.5,652.2 339.5,646.2 343.5,643.4 347.5,646.5 351.5,645.5 355.5,644.5 359.5,639.2 363.5,629.2 367.5,624.4 371.5,623.9 375.5,623.6 379.5,628.4 383.5,627.9 387.5,629.1 391.5,637.9 395.5,640.4 399.5,635.1 403.5,627.7 407.5,635.2 411.5,639.4 415.5,642.3 419.5,645.6 423.5,644.5 427.5,645.1 431.5,641.6 435.5,639.2 439.5,648.4 443.5,648.4 447.5,650.2 451.5,650.4 455.5,644.9 459.5,639.9 463.5,633.4 467.5,637.2 471.5,637.5 475.5,633.8 479.5,638.2 483.5,641.3 487.5,643.5 491.5,646.0 495.5,650.9 499.5,659.8 503.5,664.5 507.5,672.7 511.5,658.1 515.5,656.5 519.5,657.0 523.5,652.6 527.5,652.3 531.5,660.9 535.5,665.9 539.5,668.4 543.5,669.1 547.5,663.3 551.5,667.5 555.5,671.5 559.5,668.8 563.5,669.2 567.5,671.8 571.5,663.9 575.5,654.7 579.5,649.7 583.5,649.8 587.5,645.4 591.5,639.5 595.5,639.1 599.5,647.6 603.5,643.6 607.5,646.3 611.5,648.6 615.5,648.1 619.5,648.9 623.5,646.8 627.5,639.3 631.5,641.1 635.5,644.6 639.5,636.5 643.5,633.1 647.5,637.3 651.5,628.8 655.5,623.4 659.5,621.8 663.5,620.9 667.5,631.7 671.5,631.9 675.5,646.3 679.5,655.2 683.5,650.8 687.5,647.5 691.5,648.0 695.5,654.6 699.5,655.6 703.5,648.7 707.5,660.0 711.5,656.9 715.5,668.1 719.5,657.8 723.5,658.8 727.5,653.6 731.5,653.8 735.5,657.9 739.5,667.0 743.5,670.1 747.5,670.1 751.5,655.1 755.5,657.0 759.5,658.0 763.5,654.1 767.5,644.9 771.5,646.7 775.5,647.0 779.5,644.8 783.5,651.1 787.5,651.3 791.5,646.2 795.5,653.8 799.5,648.0 803.5,645.3 807.5,641.8 811.5,645.6 815.5,645.2 819.5,640.0 823.5,635.4 827.5,647.0 831.5,654.7 835.5,647.7 839.5,644.0 843.5,635.2 847.5,628.8 851.5,625.9 855.5,627.4 859.5,623.2 863.5,624.2 867.5,623.0 871.5,625.6 875.5,631.5 879.5,628.2 883.5,629.3 887.5,633.8 891.5,635.0 895.5,637.7 899.5,642.8 903.5,645.7 907.5,645.7 911.5,644.9 915.5,649.9 919.5,653.4 923.5,653.5 927.5,653.5 931.5,665.2 935.5,670.0 939.5,670.3 943.5,674.0 947.5,670.4 951.5,664.5 955.5,666.9 959.5,658.1 963.5,647.8 967.5,641.1 971.5,643.0 975.5,645.5 979.5,648.2 983.5,640.3 987.5,633.8 991.5,632.9 995.5,631.9 999.5,629.6 1003.5,629.3 1007.5,635.4 1011.5,641.6 1015.5,647.6 1019.5,656.6 1023.5,657.4 1027.5,658.3 1031.5,649.2 1035.5,634.9 1039.5,619.1 1043.5,617.7 1047.5,621.2 1051.5,620.9 1055.5,628.1 1059.5,639.6 1063.5,640.7 1067.5,644.6 1071.5,643.4 1075.5,647.6 1079.5,637.4 1083.5,622.9 1087.5,625.2 1091.5,627.1 1095.5,631.8 1099.5,628.8 1103.5,632.4 1107.5,633.0 1111.5,633.4 1115.5,627.8 1119.5,630.5 1123.5,634.0 1127.5,631.5 1131.5,639.1 1135.5,639.8 1139.5,642.7 1143.5,642.9 1147.5,643.8 1151.5,647.9 1155.5,644.4 1159.5,646.2 1163.5,650.1 1167.5,647.1" fill="none" stroke="#0000FF" stroke-width="1" shape-rendering="crispEdges"/>
<polyline points="-0.5,642.7 3.5,638.8 7.5,637.2 11.5,640.4 15.5,635.6 19.5,630.5 23.5,629.6 27.5,630.6 31.5,635.6 35.5,635.3 39.5,634.9 43.5,639.0 47.5,640.6 51.5,636.6 55.5,641.0 59.5,640.2 63.5,638.4 67.5,639.2 71.5,639.6 75.5,630.4 79.5,623.3 83.5,624.2 87.5,623.6 91.5,621.3 95.5,617.9 99.5,611.3 103.5,606.2 107.5,602.8 111.5,602.6 115.5,602.5 119.5,605.1 123.5,603.3 127.5,602.7 131.5,606.4 135.5,605.5 139.5,606.8 143.5,603.6 147.5,600.2 151.5,596.5 155.5,597.1 159.5,603.1 163.5,602.8 167.5,608.6 171.5,610.2 175.5,609.7 179.5,606.8 183.5,606.4 187.5,605.9 191.5,612.9 195.5,615.6 199.5,614.2 203.5,618.0 207.5,626.5 211.5,625.8 215.5,624.9 219.5,631.6 223.5,637.3 227.5,640.0 231.5,640.7 235.5,639.5 239.5,640.3 243.5,646.0 247.5,644.5 251.5,641.6 255.5,639.3 259.5,638.7 263.5,641.9 267.5,639.4 271.5,638.0 275.5,636.2 279.5,633.9 283.5,632.4 287.5,633.4 291.5,640.6 295.5,645.7 299.5,646.0 303.5,649.4 307.5,655.5 311.5,657.7 315.5,660.8 319.5,662.2 323.5,664.0 327.5,656.7 331.5,653.0 335.5,649.9 339.5,645.9 343.5,644.0 347.5,646.1 351.5,645.4 355.5,644.8 359.5,641.3 363.5,634.3 367.5,630.8 371.5,630.4 375.5,630.2 379.5,633.0 383.5,632.6 387.5,633.4 391.5,638.6 395.5,640.2 399.5,636.8 403.5,631.8 407.5,636.5 411.5,639.2 415.5,641.1 419.5,643.4 423.5,642.6 427.5,643.0 431.5,640.9 435.5,639.4 439.5,645.3 443.5,645.3 447.5,646.5 451.5,646.6 455.5,643.5 459.5,640.5 463.5,636.4 467.5,638.7 471.5,638.8 475.5,636.5 479.5,639.1 483.5,641.0 487.5,642.3 491.5,643.8 495.5,646.9 499.5,653.0 503.5,656.5 507.5,663.4 511.5,654.1 515.5,653.1 519.5,653.4 523.5,650.6 527.5,650.4 531.5,656.5 535.5,660.4 539.5,662.4 543.5,662.9 547.5,659.3 551.5,662.5 555.5,665.7 559.5,664.0 563.5,664.3 567.5,666.3 571.5,661.2 575.5,655.2 579.5,651.7 583.5,651.8 587.5,648.8 591.5,644.6 595.5,644.3 599.5,649.5 603.5,646.8 607.5,648.5 611.5,650.0 615.5,649.6 619.5,650.1 623.5,648.8 627.5,643.9 631.5,644.9 635.5,647.0 639.5,641.6 643.5,639.3 647.5,641.7 651.5,635.8 655.5,631.6 659.5,630.4 663.5,629.7 667.5,636.0 671.5,636.2 675.5,645.4 679.5,651.7 683.5,648.8 687.5,646.6 691.5,646.9 695.5,651.6 699.5,652.3 703.5,647.8 707.5,656.0 711.5,653.9 715.5,662.9 719.5,655.6 723.5,656.3 727.5,652.7 731.5,652.8 735.5,655.8 739.5,662.9 743.5,665.5 747.5,665.6 751.5,654.9 755.5,656.3 759.5,657.1 763.5,654.3 767.5,647.6 771.5,648.9 775.5,649.0 779.5,647.5 783.5,651.7 787.5,651.8 791.5,648.3 795.5,653.4 799.5,649.4 803.5,647.5 807.5,645.0 811.5,647.4 815.5,647.2 819.5,643.7 823.5,640.5 827.5,647.8 831.5,653.2 835.5,648.3 839.5,645.7 843.5,639.3 847.5,634.3 851.5,632.0 855.5,633.0 859.5,629.7 863.5,630.3 867.5,629.4 871.5,631.0 875.5,634.7 879.5,632.3 883.5,633.0 887.5,635.8 891.5,636.6 895.5,638.2 899.5,641.5 903.5,643.3 907.5,643.3 911.5,642.8 915.5,646.0 919.5,648.3 923.5,648.4 927.5,648.4 931.5,656.7 935.5,660.6 939.5,660.9 943.5,664.0 947.5,662.0 951.5,658.5 955.5,660.3 959.5,655.0 963.5,648.3 967.5,643.8 971.5,645.0 975.5,646.6 979.5,648.3 983.5,643.1 987.5,638.5 991.5,637.8 995.5,637.1 999.5,635.5 1003.5,635.3 1007.5,638.8 1011.5,642.6 1015.5,646.4 1019.5,652.6 1023.5,653.2 1027.5,653.8 1031.5,648.2 1035.5,638.3 1039.5,625.9 1043.5,624.7 1047.5,627.1 1051.5,626.8 1055.5,631.5 1059.5,639.4 1063.5,640.3 1067.5,643.0 1071.5,642.2 1075.5,645.2 1079.5,638.2 1083.5,627.2 1087.5,628.8 1091.5,630.2 1095.5,633.3 1099.5,631.2 1103.5,633.6 1107.5,634.0 1111.5,634.3 1115.5,630.4 1119.5,632.2 1123.5,634.5 1127.5,632.8 1131.5,637.8 1135.5,638.3 1139.5,640.2 1143.5,640.3 1147.5,640.9 1151.5,643.6 1155.5,641.5 1159.5,642.7 1163.5,645.2 1167.5,643.5" fill="none" stroke="#FF0000" stroke-width="1" shape-rendering="crispEdges"/>
</g>
<g clip-path="url(#cd)">
<path d="M-2 765h3v11h-3zM2 761h3v15h-3zM6 760h3v16h-3zM10 761h3v15h-3zM14 759h3v17h-3zM18 753h3v23h-3zM22 754h3v22h-3zM26 755h3v21h-3zM30 759h3v17h-3zM34 761h3v15h-3zM38 765h3v11h-3zM42 773h3v3h-3zM46 773h3v3h-3zM74 769h3v7h-3zM78 762h3v14h-3zM82 759h3v17h-3zM86 758h3v18h-3zM90 754h3v22h-3zM94 753h3v23h-3zM98 741h3v35h-3zM102 730h3v46h-3zM106 724h3v52h-3zM110 722h3v54h-3zM114 724h3v52h-3zM118 730h3v46h-3zM122 733h3v43h-3zM126 740h3v36h-3zM130 747h3v29h-3zM134 754h3v22h-3zM138 758h3v18h-3zM142 757h3v19h-3zM146 751h3v25h-3zM150 740h3v36h-3zM154 744h3v32h-3zM158 749h3v27h-3zM162 758h3v18h-3zM166 769h3v7h-3zM170 775h3v1h-3zM278 775h3v1h-3zM282 773h3v3h-3zM286 770h3v6h-3zM342 769h3v7h-3zM346 766h3v10h-3zM350 762h3v14h-3zM354 761h3v15h-3zM358 754h3v22h-3zM362 746h3v30h-3zM366 738h3v38h-3zM370 737h3v39h-3zM374 739h3v37h-3zM378 743h3v33h-3zM382 746h3v30h-3zM386 753h3v23h-3zM390 761h3v15h-3zM394 766h3v10h-3zM398 765h3v11h-3zM402 762h3v14h-3zM406 769h3v7h-3zM410 771h3v5h-3zM462 774h3v2h-3zM466 773h3v3h-3zM470 773h3v3h-3zM474 772h3v4h-3zM478 774h3v2h-3zM482 775h3v1h-3zM578 771h3v5h-3zM582 767h3v9h-3zM586 759h3v17h-3zM590 753h3v23h-3zM594 752h3v24h-3zM598 753h3v23h-3zM602 755h3v21h-3zM606 758h3v18h-3zM610 760h3v16h-3zM614 762h3v14h-3zM618 761h3v15h-3zM622 764h3v12h-3zM626 760h3v16h-3zM630 764h3v12h-3zM634 764h3v12h-3zM638 761h3v15h-3zM642 761h3v15h-3zM646 763h3v13h-3zM650 756h3v20h-3zM654 753h3v23h-3zM658 750h3v26h-3zM662 751h3v25h-3zM666 758h3v18h-3zM670 762h3v14h-3zM766 773h3v3h-3zM770 768h3v8h-3zM774 762h3v14h-3zM778 759h3v17h-3zM782 766h3v10h-3zM786 763h3v13h-3zM790 763h3v13h-3zM794 765h3v11h-3zM798 762h3v14h-3zM802 759h3v17h-3zM806 759h3v17h-3zM810 764h3v12h-3zM814 765h3v11h-3zM818 758h3v18h-3zM822 752h3v24h-3zM826 765h3v11h-3zM830 774h3v2h-3zM834 775h3v1h-3zM838 771h3v5h-3zM842 761h3v15h-3zM846 748h3v28h-3zM850 741h3v35h-3zM854 741h3v35h-3zM858 737h3v39h-3zM862 739h3v37h-3zM866 739h3v37h-3zM870 748h3v28h-3zM874 753h3v23h-3zM878 755h3v21h-3zM882 761h3v15h-3zM886 770h3v6h-3zM890 775h3v1h-3zM966 771h3v5h-3zM970 766h3v10h-3zM974 764h3v12h-3zM978 761h3v15h-3zM982 758h3v18h-3zM986 752h3v24h-3zM990 748h3v28h-3zM994 747h3v29h-3zM998 745h3v31h-3zM1002 748h3v28h-3zM1006 756h3v20h-3zM1010 759h3v17h-3zM1014 774h3v2h-3zM1034 770h3v6h-3zM1038 750h3v26h-3zM1042 740h3v36h-3zM1046 740h3v36h-3zM1050 738h3v38h-3zM1054 746h3v30h-3zM1058 761h3v15h-3zM1062 768h3v8h-3zM1078 772h3v4h-3zM1082 767h3v9h-3zM1086 760h3v16h-3zM1090 761h3v15h-3zM1094 764h3v12h-3zM1098 767h3v9h-3zM1102 769h3v7h-3zM1106 773h3v3h-3zM1110 771h3v5h-3zM1114 768h3v8h-3zM1118 773h3v3h-3zM1122 774h3v2h-3z" fill="#1E90FF" shape-rendering="crispEdges"/>
<path d="M54 776h3v1h-3zM58 776h3v2h-3zM62 776h3v3h-3zM66 776h3v1h-3zM70 776h3v3h-3zM174 776h3v1h-3zM178 776h3v5h-3zM182 776h3v3h-3zM186 776h3v9h-3zM190 776h3v14h-3zM194 776h3v19h-3zM198 776h3v21h-3zM202 776h3v30h-3zM206 776h3v37h-3zM210 776h3v44h-3zM214 776h3v45h-3zM218 776h3v51h-3zM222 776h3v57h-3zM226 776h3v57h-3zM230 776h3v58h-3zM234 776h3v50h-3zM238 776h3v53h-3zM242 776h3v51h-3zM246 776h3v46h-3zM250 776h3v38h-3zM254 776h3v30h-3zM258 776h3v27h-3zM262 776h3v24h-3zM266 776h3v16h-3zM270 776h3v10h-3zM274 776h3v4h-3zM290 776h3v4h-3zM294 776h3v8h-3zM298 776h3v11h-3zM302 776h3v17h-3zM306 776h3v28h-3zM310 776h3v30h-3zM314 776h3v35h-3zM318 776h3v39h-3zM322 776h3v37h-3zM326 776h3v29h-3zM330 776h3v21h-3zM334 776h3v12h-3zM414 776h3v2h-3zM418 776h3v4h-3zM422 776h3v8h-3zM426 776h3v6h-3zM430 776h3v4h-3zM434 776h3v8h-3zM438 776h3v9h-3zM442 776h3v11h-3zM446 776h3v13h-3zM450 776h3v11h-3zM454 776h3v7h-3zM458 776h3v2h-3zM490 776h3v3h-3zM494 776h3v6h-3zM498 776h3v10h-3zM502 776h3v22h-3zM506 776h3v25h-3zM510 776h3v22h-3zM514 776h3v20h-3zM518 776h3v18h-3zM522 776h3v12h-3zM526 776h3v11h-3zM530 776h3v15h-3zM534 776h3v20h-3zM538 776h3v22h-3zM542 776h3v22h-3zM546 776h3v18h-3zM550 776h3v20h-3zM554 776h3v22h-3zM558 776h3v19h-3zM562 776h3v19h-3zM566 776h3v17h-3zM570 776h3v10h-3zM574 776h3v2h-3zM674 776h3v3h-3zM678 776h3v9h-3zM682 776h3v12h-3zM686 776h3v12h-3zM690 776h3v13h-3zM694 776h3v18h-3zM698 776h3v18h-3zM702 776h3v14h-3zM706 776h3v15h-3zM710 776h3v21h-3zM714 776h3v29h-3zM718 776h3v31h-3zM722 776h3v25h-3zM726 776h3v22h-3zM730 776h3v17h-3zM734 776h3v20h-3zM738 776h3v30h-3zM742 776h3v34h-3zM746 776h3v31h-3zM750 776h3v21h-3zM754 776h3v18h-3zM758 776h3v15h-3zM762 776h3v5h-3zM894 776h3v2h-3zM898 776h3v9h-3zM902 776h3v16h-3zM906 776h3v17h-3zM910 776h3v18h-3zM914 776h3v22h-3zM918 776h3v24h-3zM922 776h3v22h-3zM926 776h3v24h-3zM930 776h3v35h-3zM934 776h3v38h-3zM938 776h3v42h-3zM942 776h3v46h-3zM946 776h3v39h-3zM950 776h3v34h-3zM954 776h3v28h-3zM958 776h3v18h-3zM962 776h3v6h-3zM1018 776h3v5h-3zM1022 776h3v11h-3zM1026 776h3v15h-3zM1030 776h3v9h-3zM1066 776h3v1h-3zM1070 776h3v6h-3zM1074 776h3v12h-3zM1126 776h3v1h-3zM1130 776h3v5h-3zM1134 776h3v11h-3zM1138 776h3v14h-3zM1142 776h3v15h-3zM1146 776h3v18h-3zM1150 776h3v21h-3zM1154 776h3v22h-3zM1158 776h3v23h-3zM1162 776h3v22h-3zM1166 776h3v18h-3z" fill="#FFA07A" shape-rendering="crispEdges"/>
<polyline points="-0.5,782.6 3.5,780.2 7.5,778.7 11.5,777.5 15.5,775.5 19.5,771.7 23.5,770.3 27.5,769.0 31.5,769.0 35.5,768.4 39.5,768.9 43.5,771.2 47.5,771.0 51.5,771.8 55.5,772.2 59.5,772.7 63.5,773.1 67.5,772.6 71.5,773.5 75.5,769.9 79.5,766.4 83.5,764.2 87.5,762.4 91.5,759.2 95.5,757.2 99.5,750.5 103.5,743.3 107.5,736.9 111.5,732.0 115.5,728.3 119.5,726.7 123.5,724.2 127.5,723.5 131.5,723.5 135.5,724.1 139.5,723.9 143.5,722.0 147.5,717.9 151.5,711.4 155.5,710.1 159.5,709.5 163.5,711.0 167.5,714.0 171.5,715.7 175.5,716.6 179.5,718.3 183.5,718.0 187.5,720.7 191.5,723.3 195.5,726.5 199.5,728.7 203.5,734.1 207.5,739.2 211.5,745.0 215.5,749.2 219.5,755.0 223.5,761.5 227.5,766.1 231.5,771.1 235.5,772.8 239.5,777.8 243.5,781.2 247.5,783.3 251.5,783.7 255.5,783.7 259.5,785.1 263.5,785.8 267.5,784.7 271.5,783.5 275.5,782.0 279.5,780.1 283.5,779.1 287.5,777.9 291.5,781.3 295.5,783.4 299.5,785.3 303.5,788.5 307.5,794.4 311.5,797.5 315.5,801.8 319.5,806.2 323.5,808.8 327.5,808.5 331.5,807.3 335.5,805.4 339.5,801.6 343.5,799.0 347.5,797.2 351.5,794.7 355.5,793.3 359.5,789.0 363.5,784.0 367.5,778.4 371.5,774.9 375.5,772.4 379.5,771.3 383.5,769.6 387.5,770.1 391.5,771.3 395.5,772.2 399.5,771.2 403.5,768.8 407.5,770.5 411.5,770.9 415.5,773.1 419.5,774.2 423.5,776.1 427.5,775.9 431.5,775.6 435.5,777.5 439.5,778.8 443.5,780.0 447.5,781.8 451.5,782.0 455.5,781.3 459.5,779.8 463.5,778.3 467.5,777.7 471.5,777.5 475.5,776.9 479.5,777.2 483.5,777.8 487.5,778.0 491.5,779.0 495.5,780.5 499.5,782.5 503.5,788.3 507.5,791.3 511.5,792.2 515.5,793.2 519.5,793.8 523.5,793.0 527.5,793.6 531.5,795.9 535.5,799.3 539.5,801.5 543.5,803.4 547.5,803.5 551.5,805.7 555.5,808.0 559.5,808.9 563.5,810.2 567.5,810.9 571.5,809.6 575.5,807.0 579.5,804.4 583.5,802.4 587.5,798.3 591.5,794.7 595.5,792.5 599.5,790.8 603.5,789.8 607.5,789.2 611.5,788.6 615.5,788.0 619.5,786.8 623.5,786.6 627.5,784.3 631.5,784.2 635.5,783.2 639.5,781.1 643.5,779.8 647.5,779.4 651.5,775.8 655.5,772.8 659.5,769.6 663.5,768.1 667.5,769.0 671.5,769.2 675.5,774.9 679.5,777.3 683.5,779.5 687.5,780.5 691.5,781.6 695.5,784.8 699.5,786.3 703.5,786.2 707.5,787.8 711.5,791.1 715.5,796.3 719.5,799.5 723.5,799.6 727.5,800.1 731.5,800.0 735.5,802.6 739.5,808.4 743.5,812.5 747.5,813.8 751.5,812.3 755.5,812.6 759.5,813.0 763.5,810.1 767.5,807.4 771.5,804.9 775.5,802.0 779.5,799.8 783.5,801.1 787.5,799.2 791.5,798.1 795.5,798.0 799.5,795.9 803.5,793.5 807.5,792.0 811.5,792.7 815.5,792.2 819.5,788.5 823.5,784.7 827.5,787.9 831.5,790.5 835.5,791.0 839.5,789.1 843.5,784.9 847.5,778.2 851.5,773.4 855.5,770.4 859.5,765.9 863.5,763.5 867.5,760.5 871.5,761.3 875.5,761.2 879.5,759.8 883.5,760.6 887.5,763.1 891.5,764.6 895.5,765.7 899.5,768.6 903.5,772.2 907.5,774.1 911.5,775.8 915.5,778.9 919.5,781.6 923.5,782.4 927.5,785.0 931.5,791.4 935.5,795.6 939.5,800.3 943.5,805.1 947.5,806.0 951.5,807.1 955.5,807.5 959.5,805.9 963.5,802.5 967.5,798.7 971.5,796.1 975.5,794.4 979.5,792.4 983.5,789.7 987.5,786.0 991.5,782.4 995.5,779.8 999.5,776.7 1003.5,775.2 1007.5,776.3 1011.5,775.7 1015.5,780.4 1019.5,783.1 1023.5,785.8 1027.5,788.4 1031.5,787.2 1035.5,781.7 1039.5,773.5 1043.5,767.4 1047.5,764.2 1051.5,760.7 1055.5,760.6 1059.5,764.4 1063.5,766.2 1067.5,769.1 1071.5,771.3 1075.5,774.0 1079.5,768.6 1083.5,766.1 1087.5,762.8 1091.5,761.9 1095.5,761.8 1099.5,762.1 1103.5,762.2 1107.5,763.2 1111.5,762.3 1115.5,760.7 1119.5,761.9 1123.5,762.0 1127.5,763.1 1131.5,765.0 1135.5,767.5 1139.5,769.9 1143.5,771.5 1147.5,773.8 1151.5,776.4 1155.5,778.5 1159.5,780.8 1163.5,782.0 1167.5,782.4" fill="none" stroke="#0000CD" stroke-width="2" stroke-linejoin="round" shape-rendering="crispEdges"/>
<polyline points="-0.5,786.1 3.5,785.0 7.5,783.7 11.5,782.5 15.5,781.1 19.5,779.2 23.5,777.4 27.5,775.7 31.5,774.4 35.5,773.2 39.5,772.3 43.5,772.1 47.5,771.9 51.5,771.8 55.5,771.9 59.5,772.1 63.5,772.3 67.5,772.3 71.5,772.6 75.5,772.0 79.5,770.9 83.5,769.6 87.5,768.1 91.5,766.3 95.5,764.5 99.5,761.7 103.5,758.0 107.5,753.8 111.5,749.5 115.5,745.2 119.5,741.5 123.5,738.1 127.5,735.1 131.5,732.8 135.5,731.1 139.5,729.6 143.5,728.1 147.5,726.1 151.5,723.1 155.5,720.5 159.5,718.3 163.5,716.9 167.5,716.3 171.5,716.2 175.5,716.3 179.5,716.7 183.5,716.9 187.5,717.7 191.5,718.8 195.5,720.4 199.5,722.0 203.5,724.4 207.5,727.4 211.5,730.9 215.5,734.6 219.5,738.7 223.5,743.2 227.5,747.8 231.5,752.5 235.5,756.5 239.5,760.8 243.5,764.9 247.5,768.5 251.5,771.6 255.5,774.0 259.5,776.2 263.5,778.1 267.5,779.4 271.5,780.3 275.5,780.6 279.5,780.5 283.5,780.2 287.5,779.8 291.5,780.1 295.5,780.7 299.5,781.6 303.5,783.0 307.5,785.3 311.5,787.7 315.5,790.5 319.5,793.7 323.5,796.7 327.5,799.1 331.5,800.7 335.5,801.6 339.5,801.6 343.5,801.1 347.5,800.3 351.5,799.2 355.5,798.0 359.5,796.2 363.5,793.8 367.5,790.7 371.5,787.5 375.5,784.5 379.5,781.9 383.5,779.4 387.5,777.5 391.5,776.3 395.5,775.5 399.5,774.6 403.5,773.5 407.5,772.9 411.5,772.5 415.5,772.6 419.5,772.9 423.5,773.6 427.5,774.0 431.5,774.3 435.5,775.0 439.5,775.7 443.5,776.6 447.5,777.6 451.5,778.5 455.5,779.1 459.5,779.2 463.5,779.0 467.5,778.8 471.5,778.5 475.5,778.2 479.5,778.0 483.5,777.9 487.5,777.9 491.5,778.2 495.5,778.6 499.5,779.4 503.5,781.2 507.5,783.2 511.5,785.0 515.5,786.6 519.5,788.1 523.5,789.1 527.5,790.0 531.5,791.1 535.5,792.8 539.5,794.5 543.5,796.3 547.5,797.7 551.5,799.3 555.5,801.1 559.5,802.6 563.5,804.1 567.5,805.5 571.5,806.3 575.5,806.5 579.5,806.0 583.5,805.3 587.5,803.9 591.5,802.1 595.5,800.2 599.5,798.3 603.5,796.6 607.5,795.1 611.5,793.8 615.5,792.7 619.5,791.5 623.5,790.5 627.5,789.3 631.5,788.2 635.5,787.2 639.5,786.0 643.5,784.8 647.5,783.7 651.5,782.1 655.5,780.3 659.5,778.1 663.5,776.1 667.5,774.7 671.5,773.6 675.5,773.8 679.5,774.5 683.5,775.5 687.5,776.5 691.5,777.5 695.5,779.0 699.5,780.5 703.5,781.6 707.5,782.8 711.5,784.5 715.5,786.9 719.5,789.4 723.5,791.4 727.5,793.2 731.5,794.5 735.5,796.1 739.5,798.6 743.5,801.4 747.5,803.9 751.5,805.5 755.5,807.0 759.5,808.2 763.5,808.5 767.5,808.3 771.5,807.6 775.5,806.5 779.5,805.2 783.5,804.3 787.5,803.3 791.5,802.3 795.5,801.4 799.5,800.3 803.5,798.9 807.5,797.5 811.5,796.6 815.5,795.7 819.5,794.2 823.5,792.3 827.5,791.4 831.5,791.3 835.5,791.2 839.5,790.8 843.5,789.6 847.5,787.3 851.5,784.5 855.5,781.7 859.5,778.5 863.5,775.5 867.5,772.5 871.5,770.3 875.5,768.5 879.5,766.7 883.5,765.5 887.5,765.0 891.5,764.9 895.5,765.1 899.5,765.8 903.5,767.1 907.5,768.5 911.5,769.9 915.5,771.7 919.5,773.7 923.5,775.5 927.5,777.4 931.5,780.2 935.5,783.3 939.5,786.7 943.5,790.4 947.5,793.5 951.5,796.2 955.5,798.5 959.5,800.0 963.5,800.5 967.5,800.1 971.5,799.3 975.5,798.3 979.5,797.2 983.5,795.7 987.5,793.7 991.5,791.5 995.5,789.1 999.5,786.6 1003.5,784.4 1007.5,782.7 1011.5,781.3 1015.5,781.2 1019.5,781.5 1023.5,782.4 1027.5,783.6 1031.5,784.3 1035.5,783.8 1039.5,781.7 1043.5,778.9 1047.5,775.9 1051.5,772.9 1055.5,770.4 1059.5,769.2 1063.5,768.6 1067.5,768.7 1071.5,769.2 1075.5,770.2 1079.5,769.9 1083.5,769.1 1087.5,767.9 1091.5,766.7 1095.5,765.7 1099.5,765.0 1103.5,764.4 1107.5,764.2 1111.5,763.8 1115.5,763.2 1119.5,762.9 1123.5,762.8 1127.5,762.8 1131.5,763.3 1135.5,764.1 1139.5,765.3 1143.5,766.5 1147.5,768.0 1151.5,769.6 1155.5,771.4 1159.5,773.3 1163.5,775.0 1167.5,776.5" fill="none" stroke="#FF8C00" stroke-width="2" stroke-linejoin="round" shape-rendering="crispEdges"/>
</g>
<ellipse cx="1164.5" cy="781.3" rx="32.6" ry="30.5" fill="none" stroke="#FB5558" stroke-width="2"/>
<g>
<text transform="translate(1256.5,14.0) scale(0.9,1)" font-size="10" fill="#000">1.38660</text>
<text transform="translate(1256.5,47.0) scale(0.9,1)" font-size="10" fill="#000">1.38270</text>
<text transform="translate(1256.5,80.0) scale(0.9,1)" font-size="10" fill="#000">1.37880</text>
<text transform="translate(1256.5,113.0) scale(0.9,1)" font-size="10" fill="#000">1.37490</text>
<text transform="translate(1256.5,146.0) scale(0.9,1)" font-size="10" fill="#000">1.37100</text>
<text transform="translate(1256.5,179.0) scale(0.9,1)" font-size="10" fill="#000">1.36720</text>
<text transform="translate(1256.5,212.0) scale(0.9,1)" font-size="10" fill="#000">1.36330</text>
<text transform="translate(1256.5,245.0) scale(0.9,1)" font-size="10" fill="#000">1.35940</text>
<text transform="translate(1256.5,278.0) scale(0.9,1)" font-size="10" fill="#000">1.35550</text>
<text transform="translate(1256.5,311.0) scale(0.9,1)" font-size="10" fill="#000">1.35160</text>
<text transform="translate(1256.5,344.0) scale(0.9,1)" font-size="10" fill="#000">1.34770</text>
<text transform="translate(1256.5,377.0) scale(0.9,1)" font-size="10" fill="#000">1.34380</text>
<text transform="translate(1256.5,410.0) scale(0.9,1)" font-size="10" fill="#000">1.33990</text>
<text transform="translate(1256.5,443.0) scale(0.9,1)" font-size="10" fill="#000">1.33600</text>
<text transform="translate(1256.5,476.0) scale(0.9,1)" font-size="10" fill="#000">1.33220</text>
<text transform="translate(1256.5,509.0) scale(0.9,1)" font-size="10" fill="#000">1.32830</text>
<text transform="translate(1256.5,542.0) scale(0.9,1)" font-size="10" fill="#000">1.32440</text>
<text transform="translate(1256.5,575.0) scale(0.9,1)" font-size="10" fill="#000">1.32050</text>
<path d="M1251 10.5h2M1251 43.5h2M1251 76.5h2M1251 109.5h2M1251 142.5h2M1251 175.5h2M1251 208.5h2M1251 241.5h2M1251 274.5h2M1251 307.5h2M1251 340.5h2M1251 373.5h2M1251 406.5h2M1251 439.5h2M1251 472.5h2M1251 505.5h2M1251 538.5h2M1251 571.5h2" stroke="#000" stroke-width="1" fill="none" shape-rendering="crispEdges"/>
<rect x="1252" y="392" width="41" height="11" fill="#FF0000" shape-rendering="crispEdges"/><text transform="translate(1256.5,401) scale(0.9,1)" font-size="10" fill="#fff">1.34091</text>
<rect x="1252" y="405" width="41" height="11" fill="#FF0000" shape-rendering="crispEdges"/><text transform="translate(1256.5,414) scale(0.9,1)" font-size="10" fill="#fff">1.33938</text>
<rect x="1252" y="496" width="41" height="11" fill="#FF0000" shape-rendering="crispEdges"/><text transform="translate(1256.5,505) scale(0.9,1)" font-size="10" fill="#fff">1.32867</text>
<rect x="1252" y="511" width="41" height="11" fill="#FF0000" shape-rendering="crispEdges"/><text transform="translate(1256.5,520) scale(0.9,1)" font-size="10" fill="#fff">1.32691</text>
<rect x="1252" y="449" width="41" height="11" fill="#000000" shape-rendering="crispEdges"/><text transform="translate(1256.5,458) scale(0.9,1)" font-size="10" fill="#fff">1.33425</text>
<text transform="translate(1253.8,587) scale(0.9,1)" font-size="10" fill="#000">100</text>
<text transform="translate(1252.8,643) scale(0.9,1)" font-size="10" fill="#000">50</text>
<text transform="translate(1253.7,698) scale(0.9,1)" font-size="10" fill="#000">0</text>
<rect x="1252" y="590" width="41" height="11" fill="#FF0000" shape-rendering="crispEdges"/><text transform="translate(1256.5,599) scale(0.9,1)" font-size="10" fill="#fff">85.0000</text>
<rect x="1252" y="608" width="41" height="11" fill="#FF0000" shape-rendering="crispEdges"/><text transform="translate(1256.5,617) scale(0.9,1)" font-size="10" fill="#fff">70.0000</text>
<rect x="1252" y="658" width="41" height="11" fill="#0000FF" shape-rendering="crispEdges"/><text transform="translate(1256.5,667) scale(0.9,1)" font-size="10" fill="#fff">30.0000</text>
<rect x="1252" y="676" width="41" height="11" fill="#0000FF" shape-rendering="crispEdges"/><text transform="translate(1256.5,685) scale(0.9,1)" font-size="10" fill="#fff">15.0000</text>
<text transform="translate(1253.7,714) scale(0.9,1)" font-size="10" fill="#000">0.0080237</text>
<text transform="translate(1253.8,780) scale(0.9,1)" font-size="10" fill="#000">0.00</text>
<text transform="translate(1253.7,837) scale(0.9,1)" font-size="10" fill="#000">-0.0070211</text>
<path d="M1251 776.5h1M1251 578.5h1M1251 700.5h1M1251 705.5h1M1251 839.5h1" stroke="#000" stroke-width="1" shape-rendering="crispEdges"/>
<text transform="translate(-42,853) scale(0.925,1)" font-size="10" fill="#000">17 Jan 20:00</text>
<text transform="translate(22,853) scale(0.925,1)" font-size="10" fill="#000">20 Jan 12:00</text>
<text transform="translate(86,853) scale(0.925,1)" font-size="10" fill="#000">23 Jan 04:00</text>
<text transform="translate(150,853) scale(0.925,1)" font-size="10" fill="#000">27 Jan 20:00</text>
<text transform="translate(214,853) scale(0.925,1)" font-size="10" fill="#000">30 Jan 12:00</text>
<text transform="translate(278,853) scale(0.925,1)" font-size="10" fill="#000">4 Feb 04:00</text>
<text transform="translate(342,853) scale(0.925,1)" font-size="10" fill="#000">6 Feb 20:00</text>
<text transform="translate(406,853) scale(0.925,1)" font-size="10" fill="#000">11 Feb 12:00</text>
<text transform="translate(470,853) scale(0.925,1)" font-size="10" fill="#000">16 Feb 04:00</text>
<text transform="translate(534,853) scale(0.925,1)" font-size="10" fill="#000">18 Feb 20:00</text>
<text transform="translate(598,853) scale(0.925,1)" font-size="10" fill="#000">23 Feb 12:00</text>
<text transform="translate(662,853) scale(0.925,1)" font-size="10" fill="#000">26 Feb 04:00</text>
<text transform="translate(726,853) scale(0.925,1)" font-size="10" fill="#000">2 Mar 20:00</text>
<text transform="translate(790,853) scale(0.925,1)" font-size="10" fill="#000">5 Mar 12:00</text>
<text transform="translate(854,853) scale(0.925,1)" font-size="10" fill="#000">10 Mar 04:00</text>
<text transform="translate(918,853) scale(0.925,1)" font-size="10" fill="#000">12 Mar 20:00</text>
<text transform="translate(982,853) scale(0.925,1)" font-size="10" fill="#000">17 Mar 12:00</text>
<text transform="translate(1046,853) scale(0.925,1)" font-size="10" fill="#000">20 Mar 04:00</text>
<text transform="translate(1110,853) scale(0.925,1)" font-size="10" fill="#000">24 Mar 20:00</text>
<path d="M-40.5 841v3M23.5 841v3M87.5 841v3M151.5 841v3M215.5 841v3M279.5 841v3M343.5 841v3M407.5 841v3M471.5 841v3M535.5 841v3M599.5 841v3M663.5 841v3M727.5 841v3M791.5 841v3M855.5 841v3M919.5 841v3M983.5 841v3M1047.5 841v3M1111.5 841v3" stroke="#000" stroke-width="1" shape-rendering="crispEdges"/>
</g>
<rect x="1296" y="0" width="1" height="855" fill="#E6E6E6"/><rect x="1297" y="0" width="1" height="855" fill="#F4F4F4"/>
</svg>
</body></html>
